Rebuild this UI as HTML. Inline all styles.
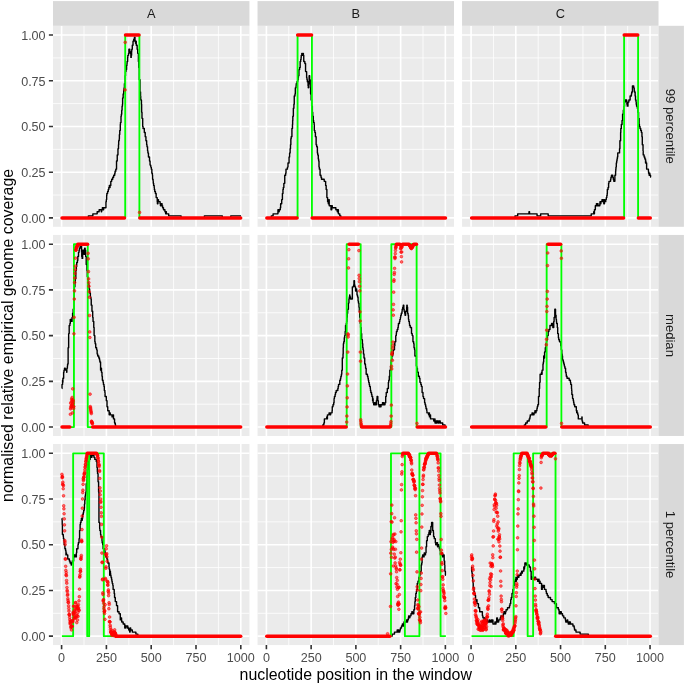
<!DOCTYPE html>
<html><head><meta charset="utf-8"><title>plot</title>
<style>html,body{margin:0;padding:0;background:#fff}svg{display:block}</style>
</head><body>
<svg width="685" height="685" viewBox="0 0 685 685" font-family="'Liberation Sans', Arial, sans-serif">
<rect width="685" height="685" fill="#fff"/>
<rect x="53" y="25.8" width="196.45" height="201" fill="#ebebeb"/>
<rect x="257.53" y="25.8" width="196.45" height="201" fill="#ebebeb"/>
<rect x="462.06" y="25.8" width="196.45" height="201" fill="#ebebeb"/>
<rect x="53" y="234.95" width="196.45" height="201" fill="#ebebeb"/>
<rect x="257.53" y="234.95" width="196.45" height="201" fill="#ebebeb"/>
<rect x="462.06" y="234.95" width="196.45" height="201" fill="#ebebeb"/>
<rect x="53" y="444.05" width="196.45" height="201" fill="#ebebeb"/>
<rect x="257.53" y="444.05" width="196.45" height="201" fill="#ebebeb"/>
<rect x="462.06" y="444.05" width="196.45" height="201" fill="#ebebeb"/>
<path d="M84 25.8V226.8M128.8 25.8V226.8M173.6 25.8V226.8M218.4 25.8V226.8M53 195.04H249.45M53 149.33H249.45M53 103.62H249.45M53 57.91H249.45M288.77 25.8V226.8M333.51 25.8V226.8M378.26 25.8V226.8M423 25.8V226.8M257.53 195.04H453.98M257.53 149.33H453.98M257.53 103.62H453.98M257.53 57.91H453.98M493.44 25.8V226.8M538.18 25.8V226.8M582.93 25.8V226.8M627.67 25.8V226.8M462.06 195.04H658.51M462.06 149.33H658.51M462.06 103.62H658.51M462.06 57.91H658.51M84 234.95V435.95M128.8 234.95V435.95M173.6 234.95V435.95M218.4 234.95V435.95M53 404.19H249.45M53 358.48H249.45M53 312.77H249.45M53 267.06H249.45M288.77 234.95V435.95M333.51 234.95V435.95M378.26 234.95V435.95M423 234.95V435.95M257.53 404.19H453.98M257.53 358.48H453.98M257.53 312.77H453.98M257.53 267.06H453.98M493.44 234.95V435.95M538.18 234.95V435.95M582.93 234.95V435.95M627.67 234.95V435.95M462.06 404.19H658.51M462.06 358.48H658.51M462.06 312.77H658.51M462.06 267.06H658.51M84 444.05V645.05M128.8 444.05V645.05M173.6 444.05V645.05M218.4 444.05V645.05M53 613.29H249.45M53 567.58H249.45M53 521.87H249.45M53 476.16H249.45M288.77 444.05V645.05M333.51 444.05V645.05M378.26 444.05V645.05M423 444.05V645.05M257.53 613.29H453.98M257.53 567.58H453.98M257.53 521.87H453.98M257.53 476.16H453.98M493.44 444.05V645.05M538.18 444.05V645.05M582.93 444.05V645.05M627.67 444.05V645.05M462.06 613.29H658.51M462.06 567.58H658.51M462.06 521.87H658.51M462.06 476.16H658.51" stroke="#fff" stroke-width=".8" fill="none"/>
<path d="M61.6 25.8V226.8M106.4 25.8V226.8M151.2 25.8V226.8M196 25.8V226.8M240.8 25.8V226.8M53 217.9H249.45M53 172.19H249.45M53 126.47H249.45M53 80.76H249.45M53 35.05H249.45M266.4 25.8V226.8M311.14 25.8V226.8M355.88 25.8V226.8M400.63 25.8V226.8M445.37 25.8V226.8M257.53 217.9H453.98M257.53 172.19H453.98M257.53 126.47H453.98M257.53 80.76H453.98M257.53 35.05H453.98M471.07 25.8V226.8M515.81 25.8V226.8M560.55 25.8V226.8M605.3 25.8V226.8M650.04 25.8V226.8M462.06 217.9H658.51M462.06 172.19H658.51M462.06 126.47H658.51M462.06 80.76H658.51M462.06 35.05H658.51M61.6 234.95V435.95M106.4 234.95V435.95M151.2 234.95V435.95M196 234.95V435.95M240.8 234.95V435.95M53 427.05H249.45M53 381.34H249.45M53 335.62H249.45M53 289.91H249.45M53 244.2H249.45M266.4 234.95V435.95M311.14 234.95V435.95M355.88 234.95V435.95M400.63 234.95V435.95M445.37 234.95V435.95M257.53 427.05H453.98M257.53 381.34H453.98M257.53 335.62H453.98M257.53 289.91H453.98M257.53 244.2H453.98M471.07 234.95V435.95M515.81 234.95V435.95M560.55 234.95V435.95M605.3 234.95V435.95M650.04 234.95V435.95M462.06 427.05H658.51M462.06 381.34H658.51M462.06 335.62H658.51M462.06 289.91H658.51M462.06 244.2H658.51M61.6 444.05V645.05M106.4 444.05V645.05M151.2 444.05V645.05M196 444.05V645.05M240.8 444.05V645.05M53 636.15H249.45M53 590.44H249.45M53 544.73H249.45M53 499.01H249.45M53 453.3H249.45M266.4 444.05V645.05M311.14 444.05V645.05M355.88 444.05V645.05M400.63 444.05V645.05M445.37 444.05V645.05M257.53 636.15H453.98M257.53 590.44H453.98M257.53 544.73H453.98M257.53 499.01H453.98M257.53 453.3H453.98M471.07 444.05V645.05M515.81 444.05V645.05M560.55 444.05V645.05M605.3 444.05V645.05M650.04 444.05V645.05M462.06 636.15H658.51M462.06 590.44H658.51M462.06 544.73H658.51M462.06 499.01H658.51M462.06 453.3H658.51" stroke="#fff" stroke-width="1.6" fill="none"/>
<path d="M61.93 217.9 L88.38 217.9 L88.38 215.87 L92.86 215.87 L92.86 213.84 L97.16 213.84 L97.16 211.81 L99.13 211.81 L99.13 209.77 L101.29 209.77 L101.29 211.81 L101.64 211.81 L101.64 209.77 L102.36 209.77 L102.36 207.74 L103.08 207.74 L103.08 209.77 L103.62 209.77 L103.62 207.74 L105.95 207.74 L105.95 201.65 L106.31 201.65 L106.31 199.62 L106.66 199.62 L106.66 195.55 L106.84 195.55 L106.84 193.52 L107.56 193.52 L107.56 191.49 L108.28 191.49 L108.28 189.46 L108.82 189.46 L108.82 187.43 L109.35 187.43 L109.35 185.39 L109.71 185.39 L109.71 187.43 L110.07 187.43 L110.07 185.39 L110.79 185.39 L110.79 181.33 L111.69 181.33 L111.69 179.3 L112.76 179.3 L112.76 177.27 L113.66 177.27 L113.66 175.23 L114.73 175.23 L114.73 173.2 L115.09 173.2 L115.09 171.17 L115.81 171.17 L115.81 169.14 L116.53 169.14 L116.53 161.01 L117.24 161.01 L117.24 154.92 L117.96 154.92 L117.96 148.82 L118.5 148.82 L118.5 144.76 L118.68 144.76 L118.68 140.7 L119.22 140.7 L119.22 138.66 L119.39 138.66 L119.39 134.6 L119.75 134.6 L119.75 130.54 L120.29 130.54 L120.29 124.44 L120.47 124.44 L120.47 122.41 L121.01 122.41 L121.01 116.32 L121.37 116.32 L121.37 114.28 L121.73 114.28 L121.73 110.22 L122.08 110.22 L122.08 106.16 L122.44 106.16 L122.44 104.13 L122.62 104.13 L122.62 98.03 L123.16 98.03 L123.16 93.97 L123.7 93.97 L123.7 89.91 L124.06 89.91 L124.06 87.87 L124.42 87.87 L124.42 83.81 L125.13 83.81 L125.13 75.68 L125.49 75.68 L125.49 71.62 L126.03 71.62 L126.03 69.59 L126.57 69.59 L126.57 65.52 L126.93 65.52 L126.93 63.49 L127.1 63.49 L127.1 61.46 L127.64 61.46 L127.64 57.4 L127.82 57.4 L127.82 55.37 L128.54 55.37 L128.54 53.33 L128.9 53.33 L128.9 49.27 L129.79 49.27 L129.79 51.3 L130.15 51.3 L130.15 53.33 L130.87 53.33 L130.87 57.4 L131.23 57.4 L131.23 55.37 L131.59 55.37 L131.59 51.3 L131.77 51.3 L131.77 49.27 L132.3 49.27 L132.3 45.21 L133.02 45.21 L133.02 41.14 L133.74 41.14 L133.74 39.11 L134.46 39.11 L134.46 37.08 L134.99 37.08 L134.99 41.14 L135.53 41.14 L135.53 43.18 L135.71 43.18 L135.71 41.14 L136.25 41.14 L136.25 45.21 L137.15 45.21 L137.15 49.27 L137.68 49.27 L137.68 53.33 L138.4 53.33 L138.4 61.46 L138.76 61.46 L138.76 67.56 L139.3 67.56 L139.3 79.75 L140.01 79.75 L140.01 91.94 L140.55 91.94 L140.55 96 L140.73 96 L140.73 100.06 L141.45 100.06 L141.45 104.13 L141.63 104.13 L141.63 112.25 L141.99 112.25 L141.99 118.35 L142.7 118.35 L142.7 126.47 L143.06 126.47 L143.06 128.51 L144.32 128.51 L144.32 132.57 L145.21 132.57 L145.21 136.63 L145.93 136.63 L145.93 140.7 L146.65 140.7 L146.65 144.76 L147.01 144.76 L147.01 146.79 L147.55 146.79 L147.55 150.85 L147.9 150.85 L147.9 152.89 L148.44 152.89 L148.44 156.95 L149.52 156.95 L149.52 161.01 L150.06 161.01 L150.06 165.08 L150.77 165.08 L150.77 167.11 L151.31 167.11 L151.31 169.14 L151.85 169.14 L151.85 173.2 L152.39 173.2 L152.39 175.23 L152.57 175.23 L152.57 179.3 L153.1 179.3 L153.1 181.33 L153.28 181.33 L153.28 183.36 L153.64 183.36 L153.64 185.39 L154.18 185.39 L154.18 187.43 L154.36 187.43 L154.36 189.46 L154.72 189.46 L154.72 191.49 L155.43 191.49 L155.43 193.52 L156.15 193.52 L156.15 197.58 L157.23 197.58 L157.23 201.65 L157.41 201.65 L157.41 203.68 L157.94 203.68 L157.94 199.62 L158.48 199.62 L158.48 201.65 L160.1 201.65 L160.1 203.68 L160.45 203.68 L160.45 205.71 L161.17 205.71 L161.17 203.68 L162.07 203.68 L162.07 205.71 L162.61 205.71 L162.61 207.74 L163.5 207.74 L163.5 209.77 L164.94 209.77 L164.94 211.81 L165.65 211.81 L165.65 213.84 L166.01 213.84 L166.01 211.81 L166.37 211.81 L166.37 213.84 L168.7 213.84 L168.7 215.87 L181.07 215.87 L181.07 217.9 L204.38 217.9 L204.38 215.87 L222.31 215.87 L222.31 217.9 L230.74 217.9 L230.74 215.87 L241.05 215.87" stroke="#000" stroke-width="1.4" fill="none" stroke-linejoin="round"/>
<path d="M61.93 217.9 L125.22 217.9 L125.22 35.05 L139.39 35.05 L139.39 217.9 L241.05 217.9" stroke="#0f0" stroke-width="1.85" fill="none" stroke-linejoin="round"/>
<g stroke="#f00" stroke-width="3.5" stroke-linecap="round" fill="none"><path d="M62.02 217.9H124.5"/><path d="M125.49 35.05H139.03"/><path d="M139.84 217.9H240.69"/></g>
<g fill="#f00" fill-opacity=".55" stroke="#f00" stroke-opacity=".7" stroke-width=".8"><circle cx="125.04" cy="89.91" r="1.35"/><circle cx="125.22" cy="42.36" r="1.35"/><circle cx="139.57" cy="212.41" r="1.35"/></g>
<path d="M266.73 217.9 L271.3 217.9 L271.3 215.87 L273.09 215.87 L273.09 213.84 L277.94 213.84 L277.94 209.77 L278.65 209.77 L278.65 211.81 L279.19 211.81 L279.19 209.77 L280.27 209.77 L280.27 207.74 L280.63 207.74 L280.63 203.68 L281.7 203.68 L281.7 199.62 L282.42 199.62 L282.42 193.52 L282.96 193.52 L282.96 189.46 L283.31 189.46 L283.31 187.43 L283.85 187.43 L283.85 183.36 L284.75 183.36 L284.75 175.23 L285.65 175.23 L285.65 173.2 L286 173.2 L286 169.14 L287.44 169.14 L287.44 167.11 L287.98 167.11 L287.98 163.04 L289.05 163.04 L289.05 156.95 L289.59 156.95 L289.59 152.89 L290.13 152.89 L290.13 148.82 L290.49 148.82 L290.49 144.76 L290.85 144.76 L290.85 138.66 L291.2 138.66 L291.2 136.63 L291.92 136.63 L291.92 128.51 L292.46 128.51 L292.46 124.44 L292.64 124.44 L292.64 120.38 L292.82 120.38 L292.82 116.32 L293.36 116.32 L293.36 108.19 L293.89 108.19 L293.89 104.13 L294.25 104.13 L294.25 96 L294.97 96 L294.97 93.97 L295.33 93.97 L295.33 87.87 L296.04 87.87 L296.04 85.84 L296.22 85.84 L296.22 83.81 L296.94 83.81 L296.94 81.78 L297.66 81.78 L297.66 79.75 L298.2 79.75 L298.2 77.71 L298.38 77.71 L298.38 75.68 L298.91 75.68 L298.91 69.59 L299.63 69.59 L299.63 67.56 L300.17 67.56 L300.17 61.46 L300.71 61.46 L300.71 59.43 L301.07 59.43 L301.07 57.4 L301.24 57.4 L301.24 55.37 L301.78 55.37 L301.78 53.33 L302.14 53.33 L302.14 55.37 L302.86 55.37 L302.86 53.33 L303.4 53.33 L303.4 55.37 L303.75 55.37 L303.75 61.46 L304.83 61.46 L304.83 63.49 L305.55 63.49 L305.55 71.62 L306.62 71.62 L306.62 77.71 L306.98 77.71 L306.98 79.75 L307.34 79.75 L307.34 81.78 L308.06 81.78 L308.06 85.84 L308.24 85.84 L308.24 87.87 L308.42 87.87 L308.42 83.81 L309.13 83.81 L309.13 75.68 L309.67 75.68 L309.67 79.75 L310.21 79.75 L310.21 87.87 L310.57 87.87 L310.57 93.97 L311.11 93.97 L311.11 100.06 L311.64 100.06 L311.64 106.16 L312.36 106.16 L312.36 112.25 L312.72 112.25 L312.72 116.32 L313.26 116.32 L313.26 120.38 L313.62 120.38 L313.62 122.41 L314.15 122.41 L314.15 124.44 L314.33 124.44 L314.33 130.54 L314.87 130.54 L314.87 132.57 L315.41 132.57 L315.41 136.63 L316.13 136.63 L316.13 144.76 L316.66 144.76 L316.66 146.79 L317.38 146.79 L317.38 152.89 L317.74 152.89 L317.74 154.92 L318.28 154.92 L318.28 158.98 L318.64 158.98 L318.64 161.01 L319 161.01 L319 167.11 L319.35 167.11 L319.35 169.14 L320.07 169.14 L320.07 175.23 L320.97 175.23 L320.97 177.27 L321.51 177.27 L321.51 179.3 L324.19 179.3 L324.19 181.33 L325.63 181.33 L325.63 185.39 L326.17 185.39 L326.17 189.46 L326.88 189.46 L326.88 197.58 L327.6 197.58 L327.6 201.65 L328.32 201.65 L328.32 203.68 L328.86 203.68 L328.86 199.62 L329.22 199.62 L329.22 205.71 L331.01 205.71 L331.01 209.77 L331.73 209.77 L331.73 205.71 L332.26 205.71 L332.26 207.74 L335.85 207.74 L335.85 209.77 L337.28 209.77 L337.28 211.81 L337.64 211.81 L337.64 209.77 L338.36 209.77 L338.36 213.84 L339.79 213.84 L339.79 215.87 L340.87 215.87 L340.87 217.9 L445.85 217.9" stroke="#000" stroke-width="1.4" fill="none" stroke-linejoin="round"/>
<path d="M266.73 217.9 L297.57 217.9 L297.57 35.05 L311.91 35.05 L311.91 217.9 L445.85 217.9" stroke="#0f0" stroke-width="1.85" fill="none" stroke-linejoin="round"/>
<g stroke="#f00" stroke-width="3.5" stroke-linecap="round" fill="none"><path d="M266.82 217.9H297.03"/><path d="M297.66 35.05H311.55"/><path d="M312.18 217.9H445.49"/></g>
<path d="M471.53 217.9 L515.01 217.9 L515.01 215.87 L517.7 215.87 L517.7 213.84 L528.99 213.84 L528.99 211.81 L529.53 211.81 L529.53 213.84 L537.06 213.84 L537.06 215.87 L540.65 215.87 L540.65 213.84 L548.18 213.84 L548.18 215.87 L591.21 215.87 L591.21 213.84 L593.72 213.84 L593.72 211.81 L594.08 211.81 L594.08 213.84 L594.44 213.84 L594.44 209.77 L595.34 209.77 L595.34 205.71 L596.41 205.71 L596.41 203.68 L597.13 203.68 L597.13 205.71 L597.67 205.71 L597.67 203.68 L598.03 203.68 L598.03 205.71 L599.82 205.71 L599.82 203.68 L600 203.68 L600 201.65 L600.36 201.65 L600.36 203.68 L600.89 203.68 L600.89 201.65 L601.97 201.65 L601.97 199.62 L602.69 199.62 L602.69 201.65 L603.23 201.65 L603.23 199.62 L603.4 199.62 L603.4 201.65 L603.76 201.65 L603.76 203.68 L604.48 203.68 L604.48 199.62 L605.02 199.62 L605.02 201.65 L605.74 201.65 L605.74 199.62 L606.27 199.62 L606.27 197.58 L606.81 197.58 L606.81 195.55 L607.17 195.55 L607.17 193.52 L607.35 193.52 L607.35 189.46 L608.07 189.46 L608.07 187.43 L608.6 187.43 L608.6 183.36 L608.96 183.36 L608.96 181.33 L610.58 181.33 L610.58 179.3 L610.94 179.3 L610.94 177.27 L611.47 177.27 L611.47 175.23 L612.73 175.23 L612.73 177.27 L613.27 177.27 L613.27 179.3 L613.8 179.3 L613.8 181.33 L614.88 181.33 L614.88 175.23 L615.6 175.23 L615.6 171.17 L615.78 171.17 L615.78 169.14 L615.96 169.14 L615.96 167.11 L616.31 167.11 L616.31 163.04 L616.67 163.04 L616.67 161.01 L617.03 161.01 L617.03 158.98 L617.39 158.98 L617.39 156.95 L617.75 156.95 L617.75 152.89 L619.54 152.89 L619.54 148.82 L619.9 148.82 L619.9 140.7 L620.62 140.7 L620.62 132.57 L620.8 132.57 L620.8 128.51 L621.33 128.51 L621.33 124.44 L622.05 124.44 L622.05 120.38 L622.59 120.38 L622.59 114.28 L623.31 114.28 L623.31 110.22 L624.02 110.22 L624.02 106.16 L624.56 106.16 L624.56 100.06 L624.92 100.06 L624.92 102.09 L625.28 102.09 L625.28 100.06 L626.71 100.06 L626.71 102.09 L626.89 102.09 L626.89 104.13 L627.25 104.13 L627.25 106.16 L627.97 106.16 L627.97 102.09 L628.87 102.09 L628.87 100.06 L630.12 100.06 L630.12 96 L631.38 96 L631.38 93.97 L631.73 93.97 L631.73 91.94 L632.45 91.94 L632.45 85.84 L633.71 85.84 L633.71 87.87 L634.24 87.87 L634.24 89.91 L634.42 89.91 L634.42 91.94 L635.14 91.94 L635.14 96 L635.5 96 L635.5 100.06 L636.04 100.06 L636.04 102.09 L636.22 102.09 L636.22 104.13 L636.57 104.13 L636.57 106.16 L637.29 106.16 L637.29 108.19 L637.83 108.19 L637.83 112.25 L638.55 112.25 L638.55 118.35 L639.09 118.35 L639.09 124.44 L639.44 124.44 L639.44 126.47 L639.98 126.47 L639.98 128.51 L640.7 128.51 L640.7 130.54 L641.42 130.54 L641.42 132.57 L641.95 132.57 L641.95 136.63 L642.31 136.63 L642.31 144.76 L643.03 144.76 L643.03 150.85 L643.21 150.85 L643.21 154.92 L644.11 154.92 L644.11 156.95 L644.82 156.95 L644.82 158.98 L645.54 158.98 L645.54 163.04 L645.72 163.04 L645.72 161.01 L645.9 161.01 L645.9 163.04 L646.62 163.04 L646.62 169.14 L648.41 169.14 L648.41 171.17 L648.59 171.17 L648.59 173.2 L649.13 173.2 L649.13 175.23 L649.31 175.23 L649.31 173.2 L649.84 173.2 L649.84 175.23 L650.56 175.23 L650.56 177.27 L650.65 177.27" stroke="#000" stroke-width="1.4" fill="none" stroke-linejoin="round"/>
<path d="M471.53 217.9 L624.11 217.9 L624.11 35.05 L638.1 35.05 L638.1 217.9 L650.65 217.9" stroke="#0f0" stroke-width="1.85" fill="none" stroke-linejoin="round"/>
<g stroke="#f00" stroke-width="3.5" stroke-linecap="round" fill="none"><path d="M471.62 217.9H623.58"/><path d="M624.2 35.05H637.74"/><path d="M638.37 217.9H650.29"/></g>
<path d="M61.93 388.45 L62.02 388.45 L62.02 384.38 L62.56 384.38 L62.56 380.32 L62.74 380.32 L62.74 382.35 L62.92 382.35 L62.92 378.29 L63.63 378.29 L63.63 372.19 L63.99 372.19 L63.99 370.16 L64.53 370.16 L64.53 368.13 L65.25 368.13 L65.25 370.16 L66.68 370.16 L66.68 372.19 L66.86 372.19 L66.86 368.13 L67.4 368.13 L67.4 366.1 L67.58 366.1 L67.58 364.07 L68.12 364.07 L68.12 347.81 L68.65 347.81 L68.65 333.59 L69.19 333.59 L69.19 325.47 L69.91 325.47 L69.91 323.44 L70.27 323.44 L70.27 319.37 L71.34 319.37 L71.34 321.4 L72.06 321.4 L72.06 317.34 L72.6 317.34 L72.6 313.28 L73.14 313.28 L73.14 309.21 L73.85 309.21 L73.85 299.06 L74.03 299.06 L74.03 292.96 L74.39 292.96 L74.39 286.87 L74.93 286.87 L74.93 282.8 L75.29 282.8 L75.29 278.74 L75.83 278.74 L75.83 270.61 L76.36 270.61 L76.36 266.55 L76.72 266.55 L76.72 262.49 L77.44 262.49 L77.44 260.45 L77.8 260.45 L77.8 256.39 L78.51 256.39 L78.51 252.33 L79.05 252.33 L79.05 250.29 L79.41 250.29 L79.41 248.26 L80.13 248.26 L80.13 245.11 L80.49 245.11 L80.49 246.23 L81.56 246.23 L81.56 252.33 L81.74 252.33 L81.74 256.39 L82.1 256.39 L82.1 258.42 L82.64 258.42 L82.64 250.29 L83.71 250.29 L83.71 252.33 L83.89 252.33 L83.89 254.36 L84.61 254.36 L84.61 248.26 L85.15 248.26 L85.15 250.29 L85.69 250.29 L85.69 256.39 L86.22 256.39 L86.22 264.52 L86.94 264.52 L86.94 270.61 L87.3 270.61 L87.3 276.71 L87.84 276.71 L87.84 282.8 L88.56 282.8 L88.56 284.83 L89.09 284.83 L89.09 288.9 L89.63 288.9 L89.63 292.96 L90.35 292.96 L90.35 297.02 L90.89 297.02 L90.89 299.06 L91.24 299.06 L91.24 305.15 L91.96 305.15 L91.96 311.25 L92.68 311.25 L92.68 317.34 L93.04 317.34 L93.04 321.4 L93.76 321.4 L93.76 327.5 L94.11 327.5 L94.11 335.62 L94.83 335.62 L94.83 341.72 L95.19 341.72 L95.19 343.75 L95.73 343.75 L95.73 347.81 L96.62 347.81 L96.62 349.85 L97.16 349.85 L97.16 353.91 L97.7 353.91 L97.7 355.94 L98.78 355.94 L98.78 357.97 L99.49 357.97 L99.49 360 L99.85 360 L99.85 362.04 L100.57 362.04 L100.57 370.16 L101.11 370.16 L101.11 368.13 L101.46 368.13 L101.46 372.19 L102 372.19 L102 376.26 L102.36 376.26 L102.36 380.32 L103.08 380.32 L103.08 382.35 L103.44 382.35 L103.44 384.38 L103.98 384.38 L103.98 386.42 L104.33 386.42 L104.33 390.48 L104.87 390.48 L104.87 392.51 L105.05 392.51 L105.05 396.57 L106.31 396.57 L106.31 400.64 L107.02 400.64 L107.02 406.73 L107.74 406.73 L107.74 410.8 L109.17 410.8 L109.17 414.86 L110.07 414.86 L110.07 412.83 L110.25 412.83 L110.25 414.86 L112.04 414.86 L112.04 416.89 L112.76 416.89 L112.76 414.86 L113.48 414.86 L113.48 418.92 L114.55 418.92 L114.55 422.99 L115.27 422.99 L115.27 425.02 L115.63 425.02 L115.63 427.05 L241.05 427.05" stroke="#000" stroke-width="1.4" fill="none" stroke-linejoin="round"/>
<path d="M61.93 427.05 L73.94 427.05 L73.94 244.2 L87.75 244.2 L87.75 427.05 L241.05 427.05" stroke="#0f0" stroke-width="1.85" fill="none" stroke-linejoin="round"/>
<g stroke="#f00" stroke-width="3.5" stroke-linecap="round" fill="none"><path d="M62.02 427.05H69.82"/><path d="M77.8 244.2H87.57"/><path d="M92.68 427.05H240.69"/></g>
<g fill="#f00" fill-opacity=".55" stroke="#f00" stroke-opacity=".7" stroke-width=".8"><circle cx="70.36" cy="414.25" r="1.35"/><circle cx="70.54" cy="408.84" r="1.35"/><circle cx="70.72" cy="403.23" r="1.35"/><circle cx="70.89" cy="407.81" r="1.35"/><circle cx="71.07" cy="406.2" r="1.35"/><circle cx="71.25" cy="402.1" r="1.35"/><circle cx="71.43" cy="406.52" r="1.35"/><circle cx="71.61" cy="399.1" r="1.35"/><circle cx="71.79" cy="405.06" r="1.35"/><circle cx="71.97" cy="400.7" r="1.35"/><circle cx="72.15" cy="397.48" r="1.35"/><circle cx="72.33" cy="412.97" r="1.35"/><circle cx="72.51" cy="404.04" r="1.35"/><circle cx="72.69" cy="388.85" r="1.35"/><circle cx="72.87" cy="399.92" r="1.35"/><circle cx="73.05" cy="403.21" r="1.35"/><circle cx="73.23" cy="401.18" r="1.35"/><circle cx="73.4" cy="406.72" r="1.35"/><circle cx="73.58" cy="408.58" r="1.35"/><circle cx="73.76" cy="406.63" r="1.35"/><circle cx="73.94" cy="333.8" r="1.35"/><circle cx="74.12" cy="317.34" r="1.35"/><circle cx="74.3" cy="299.06" r="1.35"/><circle cx="74.48" cy="290.83" r="1.35"/><circle cx="74.66" cy="282.6" r="1.35"/><circle cx="74.84" cy="278.03" r="1.35"/><circle cx="75.02" cy="273.46" r="1.35"/><circle cx="75.2" cy="269.8" r="1.35"/><circle cx="75.38" cy="266.14" r="1.35"/><circle cx="75.56" cy="258.19" r="1.35"/><circle cx="75.74" cy="250.23" r="1.35"/><circle cx="75.91" cy="249.87" r="1.35"/><circle cx="76.09" cy="250.12" r="1.35"/><circle cx="76.27" cy="248.12" r="1.35"/><circle cx="76.45" cy="247.97" r="1.35"/><circle cx="76.63" cy="247.18" r="1.35"/><circle cx="76.81" cy="246.9" r="1.35"/><circle cx="76.99" cy="245.83" r="1.35"/><circle cx="77.17" cy="246.59" r="1.35"/><circle cx="77.35" cy="245.87" r="1.35"/><circle cx="77.53" cy="245.3" r="1.35"/><circle cx="88.11" cy="253.34" r="1.35"/><circle cx="88.29" cy="258.83" r="1.35"/><circle cx="88.47" cy="271.63" r="1.35"/><circle cx="88.64" cy="278.94" r="1.35"/><circle cx="88.82" cy="282.6" r="1.35"/><circle cx="89" cy="286.26" r="1.35"/><circle cx="89.18" cy="291.74" r="1.35"/><circle cx="89.36" cy="297.23" r="1.35"/><circle cx="89.54" cy="315.51" r="1.35"/><circle cx="89.72" cy="331.97" r="1.35"/><circle cx="89.9" cy="337.45" r="1.35"/><circle cx="90.08" cy="394.14" r="1.35"/><circle cx="90.26" cy="406.57" r="1.35"/><circle cx="90.44" cy="407.67" r="1.35"/><circle cx="90.62" cy="408.76" r="1.35"/><circle cx="90.8" cy="410.04" r="1.35"/><circle cx="90.98" cy="411.32" r="1.35"/><circle cx="91.16" cy="412.47" r="1.35"/><circle cx="91.33" cy="413.61" r="1.35"/><circle cx="91.51" cy="421.2" r="1.35"/><circle cx="91.69" cy="421.69" r="1.35"/><circle cx="91.87" cy="422.17" r="1.35"/><circle cx="92.05" cy="422.66" r="1.35"/><circle cx="92.23" cy="423.21" r="1.35"/><circle cx="92.41" cy="423.76" r="1.35"/></g>
<path d="M266.73 427.05 L322.76 427.05 L322.76 425.02 L323.84 425.02 L323.84 422.99 L324.37 422.99 L324.37 418.92 L326.71 418.92 L326.71 416.89 L327.06 416.89 L327.06 418.92 L327.42 418.92 L327.42 414.86 L329.04 414.86 L329.04 412.83 L330.11 412.83 L330.11 414.86 L330.65 414.86 L330.65 412.83 L332.08 412.83 L332.08 410.8 L332.26 410.8 L332.26 406.73 L332.98 406.73 L332.98 404.7 L333.7 404.7 L333.7 402.67 L334.06 402.67 L334.06 398.61 L334.42 398.61 L334.42 396.57 L335.13 396.57 L335.13 394.54 L335.49 394.54 L335.49 392.51 L336.21 392.51 L336.21 390.48 L337.82 390.48 L337.82 388.45 L338.18 388.45 L338.18 386.42 L338.54 386.42 L338.54 384.38 L339.79 384.38 L339.79 380.32 L340.51 380.32 L340.51 378.29 L340.87 378.29 L340.87 376.26 L341.41 376.26 L341.41 374.23 L341.77 374.23 L341.77 370.16 L342.3 370.16 L342.3 357.97 L343.02 357.97 L343.02 353.91 L343.2 353.91 L343.2 347.81 L343.38 347.81 L343.38 343.75 L343.74 343.75 L343.74 341.72 L344.28 341.72 L344.28 337.66 L344.64 337.66 L344.64 335.62 L345.17 335.62 L345.17 331.56 L345.53 331.56 L345.53 325.47 L346.25 325.47 L346.25 323.44 L346.61 323.44 L346.61 321.4 L346.97 321.4 L346.97 317.34 L347.32 317.34 L347.32 313.28 L347.68 313.28 L347.68 309.21 L348.4 309.21 L348.4 303.12 L348.94 303.12 L348.94 299.06 L349.3 299.06 L349.3 297.02 L349.66 297.02 L349.66 294.99 L349.83 294.99 L349.83 297.02 L350.55 297.02 L350.55 299.06 L352.35 299.06 L352.35 286.87 L353.6 286.87 L353.6 284.83 L353.96 284.83 L353.96 280.77 L354.5 280.77 L354.5 284.83 L354.86 284.83 L354.86 286.87 L355.57 286.87 L355.57 290.93 L355.93 290.93 L355.93 288.9 L356.65 288.9 L356.65 290.93 L357.01 290.93 L357.01 294.99 L357.54 294.99 L357.54 297.02 L358.08 297.02 L358.08 301.09 L358.44 301.09 L358.44 303.12 L358.98 303.12 L358.98 307.18 L359.34 307.18 L359.34 311.25 L359.7 311.25 L359.7 317.34 L360.23 317.34 L360.23 323.44 L360.59 323.44 L360.59 327.5 L361.13 327.5 L361.13 333.59 L361.67 333.59 L361.67 339.69 L362.39 339.69 L362.39 343.75 L362.74 343.75 L362.74 347.81 L363.1 347.81 L363.1 349.85 L363.46 349.85 L363.46 353.91 L364 353.91 L364 357.97 L364.72 357.97 L364.72 364.07 L365.43 364.07 L365.43 366.1 L365.61 366.1 L365.61 368.13 L366.15 368.13 L366.15 374.23 L367.41 374.23 L367.41 376.26 L367.94 376.26 L367.94 378.29 L368.3 378.29 L368.3 380.32 L368.66 380.32 L368.66 382.35 L369.2 382.35 L369.2 384.38 L369.56 384.38 L369.56 386.42 L370.28 386.42 L370.28 388.45 L370.45 388.45 L370.45 390.48 L370.81 390.48 L370.81 392.51 L371.53 392.51 L371.53 394.54 L371.89 394.54 L371.89 396.57 L372.61 396.57 L372.61 400.64 L372.79 400.64 L372.79 398.61 L373.14 398.61 L373.14 402.67 L373.68 402.67 L373.68 404.7 L374.76 404.7 L374.76 402.67 L375.12 402.67 L375.12 404.7 L376.37 404.7 L376.37 400.64 L376.91 400.64 L376.91 398.61 L377.09 398.61 L377.09 396.57 L377.81 396.57 L377.81 400.64 L378.34 400.64 L378.34 404.7 L379.06 404.7 L379.06 406.73 L379.78 406.73 L379.78 404.7 L380.32 404.7 L380.32 406.73 L381.03 406.73 L381.03 404.7 L382.47 404.7 L382.47 402.67 L382.65 402.67 L382.65 404.7 L382.83 404.7 L382.83 402.67 L383.72 402.67 L383.72 404.7 L384.98 404.7 L384.98 402.67 L385.69 402.67 L385.69 396.57 L386.23 396.57 L386.23 392.51 L387.31 392.51 L387.31 388.45 L388.38 388.45 L388.38 382.35 L388.74 382.35 L388.74 380.32 L389.28 380.32 L389.28 376.26 L389.82 376.26 L389.82 370.16 L390.54 370.16 L390.54 366.1 L391.07 366.1 L391.07 362.04 L391.25 362.04 L391.25 360 L391.79 360 L391.79 355.94 L392.69 355.94 L392.69 353.91 L393.23 353.91 L393.23 349.85 L394.48 349.85 L394.48 343.75 L394.66 343.75 L394.66 345.78 L394.84 345.78 L394.84 341.72 L395.74 341.72 L395.74 335.62 L396.27 335.62 L396.27 333.59 L396.45 333.59 L396.45 331.56 L397.17 331.56 L397.17 329.53 L397.89 329.53 L397.89 327.5 L398.25 327.5 L398.25 325.47 L398.43 325.47 L398.43 323.44 L399.5 323.44 L399.5 321.4 L399.86 321.4 L399.86 319.37 L400.4 319.37 L400.4 317.34 L400.76 317.34 L400.76 315.31 L401.29 315.31 L401.29 313.28 L402.01 313.28 L402.01 311.25 L402.19 311.25 L402.19 309.21 L402.73 309.21 L402.73 307.18 L403.27 307.18 L403.27 305.15 L403.8 305.15 L403.8 309.21 L404.16 309.21 L404.16 311.25 L404.7 311.25 L404.7 313.28 L405.06 313.28 L405.06 315.31 L405.6 315.31 L405.6 311.25 L406.67 311.25 L406.67 307.18 L406.85 307.18 L406.85 305.15 L407.21 305.15 L407.21 307.18 L407.57 307.18 L407.57 313.28 L408.11 313.28 L408.11 315.31 L408.47 315.31 L408.47 319.37 L408.82 319.37 L408.82 321.4 L409.36 321.4 L409.36 323.44 L409.54 323.44 L409.54 325.47 L410.26 325.47 L410.26 327.5 L411.51 327.5 L411.51 333.59 L412.23 333.59 L412.23 335.62 L412.95 335.62 L412.95 341.72 L413.67 341.72 L413.67 343.75 L414.02 343.75 L414.02 347.81 L414.56 347.81 L414.56 349.85 L414.92 349.85 L414.92 355.94 L416.36 355.94 L416.36 366.1 L416.71 366.1 L416.71 368.13 L417.43 368.13 L417.43 372.19 L418.33 372.19 L418.33 376.26 L419.4 376.26 L419.4 378.29 L419.94 378.29 L419.94 382.35 L420.84 382.35 L420.84 384.38 L421.38 384.38 L421.38 386.42 L422.09 386.42 L422.09 392.51 L422.99 392.51 L422.99 396.57 L423.53 396.57 L423.53 398.61 L424.6 398.61 L424.6 402.67 L425.14 402.67 L425.14 404.7 L425.68 404.7 L425.68 406.73 L426.04 406.73 L426.04 408.76 L426.75 408.76 L426.75 410.8 L426.93 410.8 L426.93 412.83 L428.55 412.83 L428.55 414.86 L429.09 414.86 L429.09 412.83 L429.44 412.83 L429.44 416.89 L429.98 416.89 L429.98 414.86 L430.52 414.86 L430.52 418.92 L433.75 418.92 L433.75 420.95 L434.64 420.95 L434.64 418.92 L435 418.92 L435 422.99 L436.08 422.99 L436.08 420.95 L436.97 420.95 L436.97 422.99 L437.15 422.99 L437.15 420.95 L438.41 420.95 L438.41 422.99 L439.13 422.99 L439.13 420.95 L440.2 420.95 L440.2 422.99 L442.71 422.99 L442.71 425.02 L445.04 425.02 L445.04 427.05 L445.85 427.05" stroke="#000" stroke-width="1.4" fill="none" stroke-linejoin="round"/>
<path d="M266.73 427.05 L346.7 427.05 L346.7 244.2 L360.68 244.2 L360.68 427.05 L391.34 427.05 L391.34 244.2 L416.62 244.2 L416.62 427.05 L445.85 427.05" stroke="#0f0" stroke-width="1.85" fill="none" stroke-linejoin="round"/>
<g stroke="#f00" stroke-width="3.5" stroke-linecap="round" fill="none"><path d="M266.82 427.05H346.16"/><path d="M349.12 244.2H358.35"/><path d="M361.67 427.05H389.91"/><path d="M396.45 244.2H399.95"/><path d="M402.55 244.2H409.09"/><path d="M413.84 244.2H416.44"/><path d="M417.25 427.05H445.49"/></g>
<g fill="#f00" fill-opacity=".55" stroke="#f00" stroke-opacity=".7" stroke-width=".8"><circle cx="346.7" cy="422.11" r="1.35"/><circle cx="346.88" cy="416.08" r="1.35"/><circle cx="347.06" cy="406.94" r="1.35"/><circle cx="347.24" cy="397.79" r="1.35"/><circle cx="347.41" cy="385.91" r="1.35"/><circle cx="347.59" cy="374.02" r="1.35"/><circle cx="347.77" cy="352.08" r="1.35"/><circle cx="347.95" cy="333.89" r="1.35"/><circle cx="348.13" cy="336.99" r="1.35"/><circle cx="348.31" cy="334.83" r="1.35"/><circle cx="348.49" cy="267.97" r="1.35"/><circle cx="348.67" cy="258.83" r="1.35"/><circle cx="348.85" cy="249.69" r="1.35"/><circle cx="358.89" cy="250.6" r="1.35"/><circle cx="359.07" cy="275.28" r="1.35"/><circle cx="359.25" cy="278.48" r="1.35"/><circle cx="359.43" cy="281.68" r="1.35"/><circle cx="359.61" cy="286.26" r="1.35"/><circle cx="359.79" cy="290.83" r="1.35"/><circle cx="359.97" cy="311.85" r="1.35"/><circle cx="360.14" cy="321" r="1.35"/><circle cx="360.32" cy="352.08" r="1.35"/><circle cx="360.5" cy="361.22" r="1.35"/><circle cx="360.68" cy="419.74" r="1.35"/><circle cx="360.86" cy="421.56" r="1.35"/><circle cx="361.04" cy="423.39" r="1.35"/><circle cx="361.22" cy="424.61" r="1.35"/><circle cx="361.4" cy="425.83" r="1.35"/><circle cx="390.45" cy="426.14" r="1.35"/><circle cx="390.63" cy="425.22" r="1.35"/><circle cx="390.8" cy="423.39" r="1.35"/><circle cx="390.98" cy="421.56" r="1.35"/><circle cx="391.16" cy="416.08" r="1.35"/><circle cx="391.34" cy="405.11" r="1.35"/><circle cx="391.52" cy="366.23" r="1.35"/><circle cx="391.7" cy="368.95" r="1.35"/><circle cx="391.88" cy="353.97" r="1.35"/><circle cx="392.06" cy="354.6" r="1.35"/><circle cx="392.24" cy="352.17" r="1.35"/><circle cx="392.42" cy="360.3" r="1.35"/><circle cx="392.6" cy="348.32" r="1.35"/><circle cx="392.78" cy="345.67" r="1.35"/><circle cx="392.96" cy="342.11" r="1.35"/><circle cx="393.14" cy="309.93" r="1.35"/><circle cx="393.32" cy="315.18" r="1.35"/><circle cx="393.49" cy="304.38" r="1.35"/><circle cx="393.67" cy="292.16" r="1.35"/><circle cx="393.85" cy="281.29" r="1.35"/><circle cx="394.03" cy="279.83" r="1.35"/><circle cx="394.21" cy="274.4" r="1.35"/><circle cx="394.39" cy="272.52" r="1.35"/><circle cx="394.57" cy="268.37" r="1.35"/><circle cx="394.75" cy="257.07" r="1.35"/><circle cx="394.93" cy="258.58" r="1.35"/><circle cx="395.11" cy="257.42" r="1.35"/><circle cx="395.29" cy="253.66" r="1.35"/><circle cx="395.47" cy="250.42" r="1.35"/><circle cx="395.65" cy="247.93" r="1.35"/><circle cx="395.83" cy="247.46" r="1.35"/><circle cx="396" cy="246.43" r="1.35"/><circle cx="396.18" cy="245.21" r="1.35"/><circle cx="400.49" cy="245.58" r="1.35"/><circle cx="400.67" cy="248.3" r="1.35"/><circle cx="400.85" cy="248.83" r="1.35"/><circle cx="401.02" cy="252.15" r="1.35"/><circle cx="401.2" cy="247.09" r="1.35"/><circle cx="401.38" cy="256.63" r="1.35"/><circle cx="401.56" cy="261.94" r="1.35"/><circle cx="401.74" cy="251.98" r="1.35"/><circle cx="401.92" cy="247.21" r="1.35"/><circle cx="402.1" cy="245.79" r="1.35"/><circle cx="402.28" cy="245.13" r="1.35"/><circle cx="409.63" cy="245.54" r="1.35"/><circle cx="409.81" cy="245.94" r="1.35"/><circle cx="409.99" cy="245.54" r="1.35"/><circle cx="410.17" cy="246.45" r="1.35"/><circle cx="410.35" cy="246.45" r="1.35"/><circle cx="410.53" cy="246.22" r="1.35"/><circle cx="410.71" cy="247.66" r="1.35"/><circle cx="410.89" cy="246.71" r="1.35"/><circle cx="411.07" cy="247.86" r="1.35"/><circle cx="411.25" cy="248.34" r="1.35"/><circle cx="411.42" cy="248.6" r="1.35"/><circle cx="411.6" cy="246.37" r="1.35"/><circle cx="411.78" cy="247.24" r="1.35"/><circle cx="411.96" cy="247.05" r="1.35"/><circle cx="412.14" cy="247.57" r="1.35"/><circle cx="412.32" cy="245.94" r="1.35"/><circle cx="412.5" cy="247.23" r="1.35"/><circle cx="412.68" cy="246.56" r="1.35"/><circle cx="412.86" cy="245.33" r="1.35"/><circle cx="413.04" cy="245.21" r="1.35"/><circle cx="413.22" cy="245.53" r="1.35"/><circle cx="413.4" cy="244.92" r="1.35"/><circle cx="413.58" cy="244.85" r="1.35"/><circle cx="416.98" cy="423.39" r="1.35"/></g>
<path d="M471.53 427.05 L524.33 427.05 L524.33 425.02 L525.59 425.02 L525.59 422.99 L527.2 422.99 L527.2 420.95 L529.17 420.95 L529.17 418.92 L529.89 418.92 L529.89 416.89 L530.25 416.89 L530.25 414.86 L532.04 414.86 L532.04 412.83 L532.76 412.83 L532.76 414.86 L534.02 414.86 L534.02 412.83 L534.91 412.83 L534.91 410.8 L535.27 410.8 L535.27 412.83 L535.99 412.83 L535.99 410.8 L536.88 410.8 L536.88 408.76 L537.24 408.76 L537.24 406.73 L537.78 406.73 L537.78 404.7 L538.5 404.7 L538.5 396.57 L539.22 396.57 L539.22 388.45 L539.57 388.45 L539.57 382.35 L540.11 382.35 L540.11 374.23 L541.55 374.23 L541.55 372.19 L541.73 372.19 L541.73 374.23 L542.08 374.23 L542.08 370.16 L542.98 370.16 L542.98 364.07 L543.34 364.07 L543.34 362.04 L543.7 362.04 L543.7 355.94 L544.41 355.94 L544.41 357.97 L544.59 357.97 L544.59 351.88 L545.31 351.88 L545.31 347.81 L546.03 347.81 L546.03 343.75 L546.39 343.75 L546.39 341.72 L546.75 341.72 L546.75 339.69 L547.46 339.69 L547.46 335.62 L548.18 335.62 L548.18 331.56 L548.9 331.56 L548.9 329.53 L549.97 329.53 L549.97 325.47 L551.59 325.47 L551.59 323.44 L552.84 323.44 L552.84 327.5 L553.74 327.5 L553.74 321.4 L554.1 321.4 L554.1 317.34 L554.81 317.34 L554.81 309.21 L555.53 309.21 L555.53 315.31 L556.07 315.31 L556.07 319.37 L556.43 319.37 L556.43 321.4 L556.61 321.4 L556.61 323.44 L557.32 323.44 L557.32 327.5 L557.68 327.5 L557.68 333.59 L558.4 333.59 L558.4 337.66 L558.76 337.66 L558.76 339.69 L559.48 339.69 L559.48 341.72 L560.73 341.72 L560.73 345.78 L561.27 345.78 L561.27 349.85 L561.81 349.85 L561.81 353.91 L562.17 353.91 L562.17 355.94 L562.52 355.94 L562.52 360 L563.24 360 L563.24 362.04 L563.78 362.04 L563.78 364.07 L564.32 364.07 L564.32 366.1 L564.85 366.1 L564.85 368.13 L565.57 368.13 L565.57 372.19 L566.11 372.19 L566.11 374.23 L566.29 374.23 L566.29 376.26 L567.01 376.26 L567.01 378.29 L569.16 378.29 L569.16 380.32 L570.41 380.32 L570.41 382.35 L570.77 382.35 L570.77 384.38 L571.49 384.38 L571.49 388.45 L571.67 388.45 L571.67 390.48 L571.85 390.48 L571.85 394.54 L572.56 394.54 L572.56 398.61 L573.28 398.61 L573.28 400.64 L573.64 400.64 L573.64 402.67 L574 402.67 L574 404.7 L574.72 404.7 L574.72 406.73 L576.33 406.73 L576.33 410.8 L576.69 410.8 L576.69 412.83 L576.87 412.83 L576.87 410.8 L577.05 410.8 L577.05 412.83 L577.76 412.83 L577.76 414.86 L578.3 414.86 L578.3 418.92 L581.89 418.92 L581.89 416.89 L582.07 416.89 L582.07 420.95 L582.61 420.95 L582.61 422.99 L584.58 422.99 L584.58 425.02 L588.16 425.02 L588.16 427.05 L650.65 427.05" stroke="#000" stroke-width="1.4" fill="none" stroke-linejoin="round"/>
<path d="M471.53 427.05 L546.66 427.05 L546.66 244.2 L561.36 244.2 L561.36 427.05 L650.65 427.05" stroke="#0f0" stroke-width="1.85" fill="none" stroke-linejoin="round"/>
<g stroke="#f00" stroke-width="3.5" stroke-linecap="round" fill="none"><path d="M471.62 427.05H545.76"/><path d="M548 244.2H560.64"/><path d="M561.81 427.05H650.29"/></g>
<g fill="#f00" fill-opacity=".55" stroke="#f00" stroke-opacity=".7" stroke-width=".8"><circle cx="546.3" cy="344.77" r="1.35"/><circle cx="546.48" cy="339.28" r="1.35"/><circle cx="546.66" cy="330.14" r="1.35"/><circle cx="546.84" cy="311.49" r="1.35"/><circle cx="547.01" cy="306.37" r="1.35"/><circle cx="547.19" cy="299.06" r="1.35"/><circle cx="547.37" cy="291.38" r="1.35"/><circle cx="547.55" cy="265.59" r="1.35"/><circle cx="547.73" cy="252.98" r="1.35"/><circle cx="561.18" cy="250.97" r="1.35"/><circle cx="561.36" cy="258.28" r="1.35"/><circle cx="561.54" cy="423.39" r="1.35"/></g>
<path d="M61.93 518.31 L62.02 518.31 L62.02 520.35 L62.2 520.35 L62.2 524.41 L62.38 524.41 L62.38 534.57 L63.27 534.57 L63.27 536.6 L63.45 536.6 L63.45 538.63 L63.99 538.63 L63.99 540.66 L64.17 540.66 L64.17 544.73 L64.89 544.73 L64.89 548.79 L65.6 548.79 L65.6 550.82 L65.96 550.82 L65.96 554.88 L66.14 554.88 L66.14 552.85 L66.5 552.85 L66.5 554.88 L67.76 554.88 L67.76 558.95 L69.37 558.95 L69.37 560.98 L70.09 560.98 L70.09 563.01 L71.16 563.01 L71.16 565.04 L71.52 565.04 L71.52 563.01 L72.24 563.01 L72.24 560.98 L73.67 560.98 L73.67 556.91 L74.03 556.91 L74.03 554.88 L74.57 554.88 L74.57 556.91 L74.93 556.91 L74.93 554.88 L75.83 554.88 L75.83 556.91 L76.36 556.91 L76.36 552.85 L76.72 552.85 L76.72 548.79 L77.98 548.79 L77.98 544.73 L78.34 544.73 L78.34 542.69 L79.05 542.69 L79.05 538.63 L79.59 538.63 L79.59 530.5 L80.13 530.5 L80.13 524.41 L80.49 524.41 L80.49 522.38 L81.02 522.38 L81.02 520.35 L81.38 520.35 L81.38 518.31 L81.92 518.31 L81.92 520.35 L82.28 520.35 L82.28 518.31 L82.64 518.31 L82.64 514.25 L83.36 514.25 L83.36 512.22 L83.71 512.22 L83.71 510.19 L84.25 510.19 L84.25 508.16 L84.43 508.16 L84.43 504.09 L84.79 504.09 L84.79 500.03 L85.15 500.03 L85.15 495.97 L85.51 495.97 L85.51 493.93 L85.87 493.93 L85.87 491.9 L86.22 491.9 L86.22 483.77 L86.94 483.77 L86.94 479.71 L87.12 479.71 L87.12 475.65 L87.48 475.65 L87.48 469.55 L88.2 469.55 L88.2 465.49 L88.38 465.49 L88.38 463.46 L88.73 463.46 L88.73 461.43 L89.45 461.43 L89.45 459.39 L90.17 459.39 L90.17 455.33 L90.89 455.33 L90.89 457.36 L91.24 457.36 L91.24 455.33 L91.42 455.33 L91.42 457.36 L91.96 457.36 L91.96 455.33 L93.93 455.33 L93.93 457.36 L94.83 457.36 L94.83 459.39 L96.27 459.39 L96.27 461.43 L96.98 461.43 L96.98 467.52 L97.34 467.52 L97.34 471.59 L97.52 471.59 L97.52 473.62 L98.06 473.62 L98.06 481.74 L98.6 481.74 L98.6 491.9 L98.95 491.9 L98.95 522.38 L99.67 522.38 L99.67 528.47 L99.85 528.47 L99.85 530.5 L100.57 530.5 L100.57 534.57 L100.93 534.57 L100.93 536.6 L102 536.6 L102 540.66 L102.18 540.66 L102.18 542.69 L102.72 542.69 L102.72 544.73 L103.08 544.73 L103.08 548.79 L103.8 548.79 L103.8 552.85 L104.33 552.85 L104.33 548.79 L104.51 548.79 L104.51 550.82 L105.05 550.82 L105.05 552.85 L105.41 552.85 L105.41 554.88 L105.77 554.88 L105.77 556.91 L106.84 556.91 L106.84 558.95 L107.56 558.95 L107.56 560.98 L107.74 560.98 L107.74 563.01 L109 563.01 L109 567.07 L109.17 567.07 L109.17 569.11 L109.71 569.11 L109.71 575.2 L110.25 575.2 L110.25 571.14 L110.43 571.14 L110.43 573.17 L110.61 573.17 L110.61 575.2 L110.97 575.2 L110.97 577.23 L111.51 577.23 L111.51 579.26 L111.86 579.26 L111.86 581.29 L112.22 581.29 L112.22 583.33 L112.76 583.33 L112.76 585.36 L113.12 585.36 L113.12 589.42 L114.2 589.42 L114.2 593.49 L114.55 593.49 L114.55 597.55 L115.27 597.55 L115.27 601.61 L116.53 601.61 L116.53 605.67 L117.6 605.67 L117.6 611.77 L119.04 611.77 L119.04 613.8 L120.29 613.8 L120.29 619.9 L120.65 619.9 L120.65 617.87 L121.55 617.87 L121.55 619.9 L121.73 619.9 L121.73 621.93 L123.16 621.93 L123.16 623.96 L124.77 623.96 L124.77 628.02 L125.49 628.02 L125.49 625.99 L127.1 625.99 L127.1 628.02 L127.64 628.02 L127.64 625.99 L127.82 625.99 L127.82 628.02 L128.72 628.02 L128.72 630.06 L129.62 630.06 L129.62 632.09 L130.15 632.09 L130.15 628.02 L130.69 628.02 L130.69 630.06 L132.3 630.06 L132.3 632.09 L135.89 632.09 L135.89 634.12 L137.86 634.12 L137.86 636.15 L241.05 636.15" stroke="#000" stroke-width="1.4" fill="none" stroke-linejoin="round"/>
<path d="M61.93 636.15 L73.14 636.15 L73.14 453.3 L87.21 453.3 L87.21 636.15 L89.18 636.15 L89.18 453.3 L103.8 453.3 L103.8 636.15 L241.05 636.15" stroke="#0f0" stroke-width="1.85" fill="none" stroke-linejoin="round"/>
<g stroke="#f00" stroke-width="3.5" stroke-linecap="round" fill="none"><path d="M87.3 453.3H96.35"/><path d="M116.35 636.15H240.69"/></g>
<g fill="#f00" fill-opacity=".55" stroke="#f00" stroke-opacity=".7" stroke-width=".8"><circle cx="61.93" cy="474.35" r="1.35"/><circle cx="62.11" cy="477.78" r="1.35"/><circle cx="62.29" cy="476.42" r="1.35"/><circle cx="62.47" cy="477.09" r="1.35"/><circle cx="62.65" cy="484.15" r="1.35"/><circle cx="62.83" cy="482.19" r="1.35"/><circle cx="63.01" cy="484.79" r="1.35"/><circle cx="63.18" cy="488.75" r="1.35"/><circle cx="63.36" cy="485.7" r="1.35"/><circle cx="63.54" cy="495.79" r="1.35"/><circle cx="63.72" cy="505.78" r="1.35"/><circle cx="63.9" cy="508.8" r="1.35"/><circle cx="64.08" cy="513.75" r="1.35"/><circle cx="64.26" cy="518.9" r="1.35"/><circle cx="64.44" cy="524.89" r="1.35"/><circle cx="64.62" cy="530.83" r="1.35"/><circle cx="64.8" cy="540.56" r="1.35"/><circle cx="64.98" cy="542.01" r="1.35"/><circle cx="65.16" cy="544.5" r="1.35"/><circle cx="65.34" cy="558.8" r="1.35"/><circle cx="65.52" cy="559.21" r="1.35"/><circle cx="65.69" cy="566.31" r="1.35"/><circle cx="65.87" cy="570.38" r="1.35"/><circle cx="66.05" cy="574.9" r="1.35"/><circle cx="66.23" cy="572.63" r="1.35"/><circle cx="66.41" cy="575.72" r="1.35"/><circle cx="66.59" cy="580.48" r="1.35"/><circle cx="66.77" cy="583.14" r="1.35"/><circle cx="66.95" cy="587.51" r="1.35"/><circle cx="67.13" cy="590.25" r="1.35"/><circle cx="67.31" cy="591.61" r="1.35"/><circle cx="67.49" cy="595.36" r="1.35"/><circle cx="67.67" cy="594.35" r="1.35"/><circle cx="67.85" cy="598.73" r="1.35"/><circle cx="68.03" cy="600.43" r="1.35"/><circle cx="68.2" cy="602.18" r="1.35"/><circle cx="68.38" cy="602.71" r="1.35"/><circle cx="68.56" cy="605.92" r="1.35"/><circle cx="68.74" cy="608.5" r="1.35"/><circle cx="68.92" cy="611.11" r="1.35"/><circle cx="69.1" cy="614.26" r="1.35"/><circle cx="69.28" cy="615.04" r="1.35"/><circle cx="69.46" cy="614.63" r="1.35"/><circle cx="69.64" cy="617.38" r="1.35"/><circle cx="69.82" cy="619.72" r="1.35"/><circle cx="70" cy="622.7" r="1.35"/><circle cx="70.18" cy="624.11" r="1.35"/><circle cx="70.36" cy="621.39" r="1.35"/><circle cx="70.54" cy="621.06" r="1.35"/><circle cx="70.72" cy="623.4" r="1.35"/><circle cx="70.89" cy="627.75" r="1.35"/><circle cx="71.07" cy="626.6" r="1.35"/><circle cx="71.25" cy="626.84" r="1.35"/><circle cx="71.43" cy="629.92" r="1.35"/><circle cx="71.61" cy="626.52" r="1.35"/><circle cx="71.79" cy="626.41" r="1.35"/><circle cx="71.97" cy="626.54" r="1.35"/><circle cx="72.15" cy="626.29" r="1.35"/><circle cx="72.33" cy="620.96" r="1.35"/><circle cx="72.51" cy="620.76" r="1.35"/><circle cx="72.69" cy="621.91" r="1.35"/><circle cx="72.87" cy="620.76" r="1.35"/><circle cx="73.05" cy="613.18" r="1.35"/><circle cx="73.23" cy="612.08" r="1.35"/><circle cx="73.4" cy="614.97" r="1.35"/><circle cx="73.58" cy="606.2" r="1.35"/><circle cx="73.76" cy="614.26" r="1.35"/><circle cx="73.94" cy="618.02" r="1.35"/><circle cx="74.12" cy="606.31" r="1.35"/><circle cx="74.3" cy="613.11" r="1.35"/><circle cx="74.48" cy="610" r="1.35"/><circle cx="74.66" cy="611.56" r="1.35"/><circle cx="74.84" cy="617.34" r="1.35"/><circle cx="75.02" cy="618.34" r="1.35"/><circle cx="75.2" cy="612.45" r="1.35"/><circle cx="75.38" cy="602.82" r="1.35"/><circle cx="75.56" cy="617.04" r="1.35"/><circle cx="75.74" cy="602.59" r="1.35"/><circle cx="75.91" cy="609.35" r="1.35"/><circle cx="76.09" cy="617.48" r="1.35"/><circle cx="76.27" cy="608.58" r="1.35"/><circle cx="76.45" cy="606.41" r="1.35"/><circle cx="76.63" cy="615.24" r="1.35"/><circle cx="76.81" cy="622.6" r="1.35"/><circle cx="76.99" cy="606.81" r="1.35"/><circle cx="77.17" cy="615.64" r="1.35"/><circle cx="77.35" cy="605.67" r="1.35"/><circle cx="77.53" cy="620.02" r="1.35"/><circle cx="77.71" cy="608.69" r="1.35"/><circle cx="77.89" cy="612.55" r="1.35"/><circle cx="78.07" cy="616.42" r="1.35"/><circle cx="78.25" cy="608.4" r="1.35"/><circle cx="78.42" cy="604.63" r="1.35"/><circle cx="78.6" cy="607.76" r="1.35"/><circle cx="78.78" cy="610.07" r="1.35"/><circle cx="78.96" cy="600.82" r="1.35"/><circle cx="79.14" cy="610.39" r="1.35"/><circle cx="79.32" cy="596.72" r="1.35"/><circle cx="79.5" cy="589.17" r="1.35"/><circle cx="79.68" cy="577.16" r="1.35"/><circle cx="79.86" cy="576.32" r="1.35"/><circle cx="80.04" cy="574.55" r="1.35"/><circle cx="80.22" cy="571.21" r="1.35"/><circle cx="80.4" cy="569.31" r="1.35"/><circle cx="80.58" cy="571.38" r="1.35"/><circle cx="80.76" cy="558.72" r="1.35"/><circle cx="80.94" cy="559.31" r="1.35"/><circle cx="81.11" cy="557.32" r="1.35"/><circle cx="81.29" cy="555.5" r="1.35"/><circle cx="81.47" cy="541.28" r="1.35"/><circle cx="81.65" cy="540.09" r="1.35"/><circle cx="81.83" cy="541.62" r="1.35"/><circle cx="82.01" cy="529.54" r="1.35"/><circle cx="82.19" cy="516.05" r="1.35"/><circle cx="82.37" cy="508.22" r="1.35"/><circle cx="82.55" cy="498.97" r="1.35"/><circle cx="82.73" cy="492.59" r="1.35"/><circle cx="82.91" cy="490.18" r="1.35"/><circle cx="83.09" cy="484.31" r="1.35"/><circle cx="83.27" cy="478.55" r="1.35"/><circle cx="83.45" cy="480.56" r="1.35"/><circle cx="83.62" cy="479.58" r="1.35"/><circle cx="83.8" cy="477.12" r="1.35"/><circle cx="83.98" cy="477.15" r="1.35"/><circle cx="84.16" cy="474.71" r="1.35"/><circle cx="84.34" cy="473.37" r="1.35"/><circle cx="84.52" cy="473.77" r="1.35"/><circle cx="84.7" cy="472.26" r="1.35"/><circle cx="84.88" cy="469.86" r="1.35"/><circle cx="85.06" cy="467.59" r="1.35"/><circle cx="85.24" cy="466.52" r="1.35"/><circle cx="85.42" cy="464.24" r="1.35"/><circle cx="85.6" cy="464.72" r="1.35"/><circle cx="85.78" cy="461.78" r="1.35"/><circle cx="85.96" cy="461.06" r="1.35"/><circle cx="86.13" cy="459.51" r="1.35"/><circle cx="86.31" cy="458.36" r="1.35"/><circle cx="86.49" cy="457.87" r="1.35"/><circle cx="86.67" cy="456.5" r="1.35"/><circle cx="86.85" cy="455.63" r="1.35"/><circle cx="87.03" cy="454.32" r="1.35"/><circle cx="96.89" cy="453.94" r="1.35"/><circle cx="97.07" cy="454.5" r="1.35"/><circle cx="97.25" cy="454.88" r="1.35"/><circle cx="97.43" cy="455.77" r="1.35"/><circle cx="97.61" cy="455.43" r="1.35"/><circle cx="97.79" cy="457.47" r="1.35"/><circle cx="97.97" cy="457.65" r="1.35"/><circle cx="98.15" cy="459.04" r="1.35"/><circle cx="98.33" cy="460.98" r="1.35"/><circle cx="98.51" cy="461.5" r="1.35"/><circle cx="98.69" cy="463.8" r="1.35"/><circle cx="98.87" cy="465.12" r="1.35"/><circle cx="99.04" cy="466.76" r="1.35"/><circle cx="99.22" cy="465.24" r="1.35"/><circle cx="99.4" cy="470.5" r="1.35"/><circle cx="99.58" cy="471.39" r="1.35"/><circle cx="99.76" cy="478.45" r="1.35"/><circle cx="99.94" cy="487.86" r="1.35"/><circle cx="100.12" cy="494.8" r="1.35"/><circle cx="100.3" cy="491.11" r="1.35"/><circle cx="100.48" cy="502.48" r="1.35"/><circle cx="100.66" cy="498.98" r="1.35"/><circle cx="100.84" cy="501.58" r="1.35"/><circle cx="101.02" cy="507.26" r="1.35"/><circle cx="101.2" cy="512.8" r="1.35"/><circle cx="101.38" cy="516.36" r="1.35"/><circle cx="101.55" cy="524.38" r="1.35"/><circle cx="101.73" cy="537.19" r="1.35"/><circle cx="101.91" cy="553.05" r="1.35"/><circle cx="102.09" cy="562.56" r="1.35"/><circle cx="102.27" cy="562.03" r="1.35"/><circle cx="102.45" cy="579.84" r="1.35"/><circle cx="102.63" cy="579.05" r="1.35"/><circle cx="102.81" cy="592.9" r="1.35"/><circle cx="102.99" cy="594.41" r="1.35"/><circle cx="103.17" cy="600.99" r="1.35"/><circle cx="103.35" cy="600.28" r="1.35"/><circle cx="103.53" cy="599.6" r="1.35"/><circle cx="103.71" cy="603.37" r="1.35"/><circle cx="103.89" cy="608.64" r="1.35"/><circle cx="104.06" cy="606.69" r="1.35"/><circle cx="104.24" cy="611.63" r="1.35"/><circle cx="104.42" cy="611.31" r="1.35"/><circle cx="104.6" cy="613.48" r="1.35"/><circle cx="104.78" cy="610.7" r="1.35"/><circle cx="104.96" cy="619.32" r="1.35"/><circle cx="105.14" cy="604.67" r="1.35"/><circle cx="105.32" cy="579.47" r="1.35"/><circle cx="105.5" cy="578.4" r="1.35"/><circle cx="105.68" cy="554.44" r="1.35"/><circle cx="105.86" cy="568.33" r="1.35"/><circle cx="106.04" cy="566.91" r="1.35"/><circle cx="106.22" cy="548.78" r="1.35"/><circle cx="106.4" cy="554.75" r="1.35"/><circle cx="106.57" cy="545.77" r="1.35"/><circle cx="106.75" cy="553.68" r="1.35"/><circle cx="106.93" cy="556.78" r="1.35"/><circle cx="107.11" cy="561.27" r="1.35"/><circle cx="107.29" cy="581.38" r="1.35"/><circle cx="107.47" cy="581.51" r="1.35"/><circle cx="107.65" cy="584.73" r="1.35"/><circle cx="107.83" cy="585.31" r="1.35"/><circle cx="108.01" cy="582.65" r="1.35"/><circle cx="108.19" cy="591.41" r="1.35"/><circle cx="108.37" cy="589.93" r="1.35"/><circle cx="108.55" cy="595.62" r="1.35"/><circle cx="108.73" cy="592.8" r="1.35"/><circle cx="108.91" cy="608.72" r="1.35"/><circle cx="109.09" cy="602.75" r="1.35"/><circle cx="109.26" cy="604.47" r="1.35"/><circle cx="109.44" cy="621.68" r="1.35"/><circle cx="109.62" cy="617.02" r="1.35"/><circle cx="109.8" cy="621.86" r="1.35"/><circle cx="109.98" cy="621.89" r="1.35"/><circle cx="110.16" cy="625.31" r="1.35"/><circle cx="110.34" cy="627.18" r="1.35"/><circle cx="110.52" cy="629.6" r="1.35"/><circle cx="110.7" cy="631.92" r="1.35"/><circle cx="110.88" cy="632" r="1.35"/><circle cx="111.06" cy="632.61" r="1.35"/><circle cx="111.24" cy="632.23" r="1.35"/><circle cx="111.42" cy="633.35" r="1.35"/><circle cx="111.6" cy="629.98" r="1.35"/><circle cx="111.77" cy="635.28" r="1.35"/><circle cx="111.95" cy="632.71" r="1.35"/><circle cx="112.13" cy="634.32" r="1.35"/><circle cx="112.31" cy="633.94" r="1.35"/><circle cx="112.49" cy="632.44" r="1.35"/><circle cx="112.67" cy="633.37" r="1.35"/><circle cx="112.85" cy="634.72" r="1.35"/><circle cx="113.03" cy="632.55" r="1.35"/><circle cx="113.21" cy="633.19" r="1.35"/><circle cx="113.39" cy="635.55" r="1.35"/><circle cx="113.57" cy="632.37" r="1.35"/><circle cx="113.75" cy="633.98" r="1.35"/><circle cx="113.93" cy="633.64" r="1.35"/><circle cx="114.11" cy="631.99" r="1.35"/><circle cx="114.28" cy="632.34" r="1.35"/><circle cx="114.46" cy="633.27" r="1.35"/><circle cx="114.64" cy="629.88" r="1.35"/><circle cx="114.82" cy="632.45" r="1.35"/><circle cx="115" cy="634" r="1.35"/><circle cx="115.18" cy="632.89" r="1.35"/><circle cx="115.36" cy="633.49" r="1.35"/><circle cx="116.08" cy="634.74" r="1.35"/><circle cx="115.54" cy="636.15" r="1.35"/><circle cx="115.72" cy="636.15" r="1.35"/><circle cx="115.9" cy="636.15" r="1.35"/></g>
<path d="M266.73 636.15 L392.15 636.15 L392.15 634.12 L394.48 634.12 L394.48 632.09 L397.17 632.09 L397.17 630.06 L397.53 630.06 L397.53 632.09 L398.07 632.09 L398.07 630.06 L398.78 630.06 L398.78 632.09 L399.86 632.09 L399.86 630.06 L400.4 630.06 L400.4 628.02 L401.47 628.02 L401.47 625.99 L402.37 625.99 L402.37 623.96 L402.73 623.96 L402.73 625.99 L403.98 625.99 L403.98 621.93 L406.49 621.93 L406.49 619.9 L407.39 619.9 L407.39 621.93 L407.57 621.93 L407.57 619.9 L408.29 619.9 L408.29 617.87 L408.65 617.87 L408.65 615.83 L409.18 615.83 L409.18 617.87 L409.9 617.87 L409.9 615.83 L410.98 615.83 L410.98 613.8 L411.87 613.8 L411.87 611.77 L412.41 611.77 L412.41 613.8 L413.84 613.8 L413.84 609.74 L414.56 609.74 L414.56 605.67 L414.92 605.67 L414.92 601.61 L415.28 601.61 L415.28 597.55 L415.82 597.55 L415.82 593.49 L416.36 593.49 L416.36 591.45 L416.71 591.45 L416.71 589.42 L417.25 589.42 L417.25 583.33 L417.97 583.33 L417.97 581.29 L418.87 581.29 L418.87 577.23 L419.58 577.23 L419.58 575.2 L420.12 575.2 L420.12 573.17 L420.66 573.17 L420.66 571.14 L421.2 571.14 L421.2 565.04 L421.73 565.04 L421.73 563.01 L422.09 563.01 L422.09 556.91 L422.63 556.91 L422.63 554.88 L423.71 554.88 L423.71 556.91 L424.07 556.91 L424.07 554.88 L424.24 554.88 L424.24 552.85 L424.78 552.85 L424.78 554.88 L425.5 554.88 L425.5 552.85 L426.04 552.85 L426.04 546.76 L426.58 546.76 L426.58 540.66 L427.29 540.66 L427.29 536.6 L428.19 536.6 L428.19 534.57 L428.91 534.57 L428.91 532.53 L429.26 532.53 L429.26 530.5 L429.62 530.5 L429.62 534.57 L430.34 534.57 L430.34 532.53 L430.88 532.53 L430.88 526.44 L431.6 526.44 L431.6 522.38 L432.67 522.38 L432.67 530.5 L433.39 530.5 L433.39 532.53 L433.57 532.53 L433.57 536.6 L434.29 536.6 L434.29 538.63 L435.36 538.63 L435.36 542.69 L435.72 542.69 L435.72 544.73 L436.62 544.73 L436.62 542.69 L437.51 542.69 L437.51 546.76 L437.69 546.76 L437.69 544.73 L438.77 544.73 L438.77 546.76 L439.31 546.76 L439.31 548.79 L440.02 548.79 L440.02 550.82 L440.38 550.82 L440.38 554.88 L441.82 554.88 L441.82 552.85 L442.53 552.85 L442.53 556.91 L443.07 556.91 L443.07 554.88 L444.15 554.88 L444.15 560.98 L444.68 560.98 L444.68 565.04 L444.86 565.04 L444.86 571.14 L445.4 571.14 L445.4 575.2 L445.85 575.2" stroke="#000" stroke-width="1.4" fill="none" stroke-linejoin="round"/>
<path d="M266.73 636.15 L390.98 636.15 L390.98 453.3 L404.88 453.3 L404.88 636.15 L419.4 636.15 L419.4 453.3 L440.56 453.3 L440.56 636.15 L445.85 636.15" stroke="#0f0" stroke-width="1.85" fill="none" stroke-linejoin="round"/>
<g stroke="#f00" stroke-width="3.5" stroke-linecap="round" fill="none"><path d="M266.82 636.15H387.04"/><path d="M387.85 636.15H389.91"/><path d="M402.91 453.3H408.38"/><path d="M428.73 453.3H436.35"/></g>
<g fill="#f00" fill-opacity=".55" stroke="#f00" stroke-opacity=".7" stroke-width=".8"><circle cx="387.58" cy="633.77" r="1.35"/><circle cx="390.45" cy="606.45" r="1.35"/><circle cx="390.63" cy="573.84" r="1.35"/><circle cx="390.8" cy="553.2" r="1.35"/><circle cx="390.98" cy="541.66" r="1.35"/><circle cx="391.16" cy="521.67" r="1.35"/><circle cx="391.34" cy="549.39" r="1.35"/><circle cx="391.52" cy="557.29" r="1.35"/><circle cx="391.7" cy="513.7" r="1.35"/><circle cx="391.88" cy="505.1" r="1.35"/><circle cx="392.06" cy="522.11" r="1.35"/><circle cx="392.24" cy="539.01" r="1.35"/><circle cx="392.42" cy="537.89" r="1.35"/><circle cx="392.6" cy="547.03" r="1.35"/><circle cx="392.78" cy="548.32" r="1.35"/><circle cx="392.96" cy="542.55" r="1.35"/><circle cx="393.14" cy="535.36" r="1.35"/><circle cx="393.32" cy="566.01" r="1.35"/><circle cx="393.49" cy="534.33" r="1.35"/><circle cx="393.67" cy="541.29" r="1.35"/><circle cx="393.85" cy="549.4" r="1.35"/><circle cx="394.03" cy="539.41" r="1.35"/><circle cx="394.21" cy="554.11" r="1.35"/><circle cx="394.39" cy="541.03" r="1.35"/><circle cx="394.57" cy="517.76" r="1.35"/><circle cx="394.75" cy="558.05" r="1.35"/><circle cx="394.93" cy="534.07" r="1.35"/><circle cx="395.11" cy="562.96" r="1.35"/><circle cx="395.29" cy="557.19" r="1.35"/><circle cx="395.47" cy="549.26" r="1.35"/><circle cx="395.65" cy="565.92" r="1.35"/><circle cx="395.83" cy="541.58" r="1.35"/><circle cx="396" cy="583.7" r="1.35"/><circle cx="396.18" cy="567.94" r="1.35"/><circle cx="396.36" cy="569.13" r="1.35"/><circle cx="396.54" cy="571.77" r="1.35"/><circle cx="396.72" cy="577.54" r="1.35"/><circle cx="396.9" cy="587.12" r="1.35"/><circle cx="397.08" cy="584.23" r="1.35"/><circle cx="397.26" cy="580.42" r="1.35"/><circle cx="397.44" cy="589.28" r="1.35"/><circle cx="397.62" cy="596.48" r="1.35"/><circle cx="397.8" cy="604.05" r="1.35"/><circle cx="397.98" cy="605.19" r="1.35"/><circle cx="398.16" cy="603.14" r="1.35"/><circle cx="398.34" cy="604.86" r="1.35"/><circle cx="398.51" cy="602.05" r="1.35"/><circle cx="398.69" cy="587.53" r="1.35"/><circle cx="398.87" cy="609.3" r="1.35"/><circle cx="399.05" cy="587.21" r="1.35"/><circle cx="399.23" cy="604" r="1.35"/><circle cx="399.41" cy="594.56" r="1.35"/><circle cx="399.59" cy="562.49" r="1.35"/><circle cx="399.77" cy="569.65" r="1.35"/><circle cx="399.95" cy="569.91" r="1.35"/><circle cx="400.13" cy="563.95" r="1.35"/><circle cx="400.31" cy="559.18" r="1.35"/><circle cx="400.49" cy="565.25" r="1.35"/><circle cx="400.67" cy="565.13" r="1.35"/><circle cx="400.85" cy="552.75" r="1.35"/><circle cx="401.02" cy="531.87" r="1.35"/><circle cx="401.2" cy="520.73" r="1.35"/><circle cx="401.38" cy="489.97" r="1.35"/><circle cx="401.56" cy="484.63" r="1.35"/><circle cx="401.74" cy="474.07" r="1.35"/><circle cx="401.92" cy="471.78" r="1.35"/><circle cx="402.1" cy="464.64" r="1.35"/><circle cx="402.28" cy="456.49" r="1.35"/><circle cx="402.46" cy="455.01" r="1.35"/><circle cx="402.64" cy="454.26" r="1.35"/><circle cx="408.91" cy="454.6" r="1.35"/><circle cx="409.09" cy="455.61" r="1.35"/><circle cx="409.27" cy="454.88" r="1.35"/><circle cx="409.45" cy="456.46" r="1.35"/><circle cx="409.63" cy="454.77" r="1.35"/><circle cx="409.81" cy="456.51" r="1.35"/><circle cx="409.99" cy="456.54" r="1.35"/><circle cx="410.17" cy="457.19" r="1.35"/><circle cx="410.35" cy="457.38" r="1.35"/><circle cx="410.53" cy="457.76" r="1.35"/><circle cx="410.71" cy="457.7" r="1.35"/><circle cx="410.89" cy="459.94" r="1.35"/><circle cx="411.07" cy="460.05" r="1.35"/><circle cx="411.25" cy="460.67" r="1.35"/><circle cx="411.42" cy="462.56" r="1.35"/><circle cx="411.6" cy="463.84" r="1.35"/><circle cx="411.78" cy="470.02" r="1.35"/><circle cx="411.96" cy="474.09" r="1.35"/><circle cx="412.14" cy="473.07" r="1.35"/><circle cx="412.32" cy="474.02" r="1.35"/><circle cx="412.5" cy="474.75" r="1.35"/><circle cx="412.68" cy="475.15" r="1.35"/><circle cx="412.86" cy="475.25" r="1.35"/><circle cx="413.04" cy="479.38" r="1.35"/><circle cx="413.22" cy="479.5" r="1.35"/><circle cx="413.4" cy="479.63" r="1.35"/><circle cx="413.58" cy="480.06" r="1.35"/><circle cx="413.76" cy="481.12" r="1.35"/><circle cx="413.93" cy="482.27" r="1.35"/><circle cx="414.11" cy="485.1" r="1.35"/><circle cx="414.29" cy="481.17" r="1.35"/><circle cx="414.47" cy="485.49" r="1.35"/><circle cx="414.65" cy="485.75" r="1.35"/><circle cx="414.83" cy="488.73" r="1.35"/><circle cx="415.01" cy="487.71" r="1.35"/><circle cx="415.19" cy="489.65" r="1.35"/><circle cx="415.37" cy="488.41" r="1.35"/><circle cx="415.55" cy="495.7" r="1.35"/><circle cx="415.73" cy="514.89" r="1.35"/><circle cx="415.91" cy="518.34" r="1.35"/><circle cx="416.09" cy="522.8" r="1.35"/><circle cx="416.27" cy="530.79" r="1.35"/><circle cx="416.44" cy="533.81" r="1.35"/><circle cx="416.62" cy="552.15" r="1.35"/><circle cx="416.8" cy="539.37" r="1.35"/><circle cx="416.98" cy="571.9" r="1.35"/><circle cx="417.16" cy="586.77" r="1.35"/><circle cx="417.34" cy="589.97" r="1.35"/><circle cx="417.52" cy="608.23" r="1.35"/><circle cx="417.7" cy="600.01" r="1.35"/><circle cx="417.88" cy="604.61" r="1.35"/><circle cx="418.06" cy="608.54" r="1.35"/><circle cx="418.24" cy="605.58" r="1.35"/><circle cx="418.42" cy="609.13" r="1.35"/><circle cx="418.6" cy="613.62" r="1.35"/><circle cx="418.78" cy="613.52" r="1.35"/><circle cx="418.96" cy="606.69" r="1.35"/><circle cx="419.13" cy="613.86" r="1.35"/><circle cx="419.31" cy="614.66" r="1.35"/><circle cx="419.49" cy="619.8" r="1.35"/><circle cx="419.67" cy="612.32" r="1.35"/><circle cx="419.85" cy="617.36" r="1.35"/><circle cx="420.03" cy="620.55" r="1.35"/><circle cx="420.21" cy="620.78" r="1.35"/><circle cx="420.39" cy="622.66" r="1.35"/><circle cx="420.57" cy="611.92" r="1.35"/><circle cx="420.75" cy="590.68" r="1.35"/><circle cx="420.93" cy="584.51" r="1.35"/><circle cx="421.11" cy="578.43" r="1.35"/><circle cx="421.29" cy="573.11" r="1.35"/><circle cx="421.47" cy="559.19" r="1.35"/><circle cx="421.64" cy="548.07" r="1.35"/><circle cx="421.82" cy="527.07" r="1.35"/><circle cx="422" cy="513.98" r="1.35"/><circle cx="422.18" cy="505.3" r="1.35"/><circle cx="422.36" cy="496.78" r="1.35"/><circle cx="422.54" cy="490.62" r="1.35"/><circle cx="422.72" cy="484.29" r="1.35"/><circle cx="422.9" cy="484.38" r="1.35"/><circle cx="423.08" cy="479.6" r="1.35"/><circle cx="423.26" cy="476.6" r="1.35"/><circle cx="423.44" cy="475.17" r="1.35"/><circle cx="423.62" cy="469.98" r="1.35"/><circle cx="423.8" cy="469.49" r="1.35"/><circle cx="423.98" cy="467.67" r="1.35"/><circle cx="424.15" cy="467.06" r="1.35"/><circle cx="424.33" cy="467.43" r="1.35"/><circle cx="424.51" cy="464.26" r="1.35"/><circle cx="424.69" cy="464.44" r="1.35"/><circle cx="424.87" cy="464.05" r="1.35"/><circle cx="425.05" cy="463.27" r="1.35"/><circle cx="425.23" cy="462.93" r="1.35"/><circle cx="425.41" cy="461.69" r="1.35"/><circle cx="425.59" cy="460.53" r="1.35"/><circle cx="425.77" cy="459.1" r="1.35"/><circle cx="425.95" cy="459.95" r="1.35"/><circle cx="426.13" cy="458.29" r="1.35"/><circle cx="426.31" cy="458.19" r="1.35"/><circle cx="426.49" cy="457.51" r="1.35"/><circle cx="426.66" cy="457.65" r="1.35"/><circle cx="426.84" cy="458.08" r="1.35"/><circle cx="427.02" cy="456.16" r="1.35"/><circle cx="427.2" cy="456.07" r="1.35"/><circle cx="427.38" cy="456.74" r="1.35"/><circle cx="427.56" cy="455.75" r="1.35"/><circle cx="427.74" cy="455.55" r="1.35"/><circle cx="427.92" cy="454.3" r="1.35"/><circle cx="428.1" cy="454.36" r="1.35"/><circle cx="428.28" cy="454.5" r="1.35"/><circle cx="428.46" cy="454.26" r="1.35"/><circle cx="436.88" cy="454.46" r="1.35"/><circle cx="437.06" cy="455.3" r="1.35"/><circle cx="437.24" cy="456.39" r="1.35"/><circle cx="437.42" cy="456.84" r="1.35"/><circle cx="437.6" cy="458.61" r="1.35"/><circle cx="437.78" cy="459.12" r="1.35"/><circle cx="437.96" cy="460.19" r="1.35"/><circle cx="438.14" cy="462.9" r="1.35"/><circle cx="438.32" cy="467.75" r="1.35"/><circle cx="438.5" cy="468.28" r="1.35"/><circle cx="438.68" cy="471.11" r="1.35"/><circle cx="438.86" cy="475.42" r="1.35"/><circle cx="439.04" cy="478.67" r="1.35"/><circle cx="439.22" cy="480.5" r="1.35"/><circle cx="439.4" cy="485" r="1.35"/><circle cx="439.57" cy="488.56" r="1.35"/><circle cx="439.75" cy="490.82" r="1.35"/><circle cx="439.93" cy="493" r="1.35"/><circle cx="440.11" cy="498.51" r="1.35"/><circle cx="440.29" cy="498.95" r="1.35"/><circle cx="440.47" cy="500.88" r="1.35"/><circle cx="440.65" cy="501.84" r="1.35"/><circle cx="440.83" cy="513.68" r="1.35"/><circle cx="441.01" cy="516.36" r="1.35"/><circle cx="441.19" cy="539.48" r="1.35"/><circle cx="441.37" cy="550.14" r="1.35"/><circle cx="441.55" cy="553.57" r="1.35"/><circle cx="441.73" cy="553.42" r="1.35"/><circle cx="441.91" cy="562.58" r="1.35"/><circle cx="442.08" cy="564.17" r="1.35"/><circle cx="442.26" cy="570.62" r="1.35"/><circle cx="442.44" cy="576.75" r="1.35"/><circle cx="442.62" cy="576.82" r="1.35"/><circle cx="442.8" cy="579.31" r="1.35"/><circle cx="442.98" cy="588.39" r="1.35"/><circle cx="443.16" cy="584.9" r="1.35"/><circle cx="443.34" cy="590.32" r="1.35"/><circle cx="443.52" cy="591.24" r="1.35"/><circle cx="443.7" cy="595.92" r="1.35"/><circle cx="443.88" cy="592.32" r="1.35"/><circle cx="444.06" cy="593.72" r="1.35"/><circle cx="444.24" cy="597.36" r="1.35"/><circle cx="444.42" cy="597.89" r="1.35"/><circle cx="444.59" cy="597.81" r="1.35"/><circle cx="444.77" cy="600.68" r="1.35"/><circle cx="444.95" cy="607.82" r="1.35"/><circle cx="445.13" cy="608.66" r="1.35"/><circle cx="445.31" cy="606.31" r="1.35"/><circle cx="445.49" cy="607.71" r="1.35"/><circle cx="445.67" cy="607.87" r="1.35"/><circle cx="445.85" cy="613.43" r="1.35"/></g>
<path d="M471.53 567.07 L471.62 567.07 L471.62 571.14 L471.98 571.14 L471.98 573.17 L472.34 573.17 L472.34 577.23 L472.69 577.23 L472.69 581.29 L473.05 581.29 L473.05 583.33 L473.23 583.33 L473.23 587.39 L473.95 587.39 L473.95 591.45 L474.49 591.45 L474.49 593.49 L475.03 593.49 L475.03 595.52 L475.56 595.52 L475.56 599.58 L476.1 599.58 L476.1 601.61 L476.82 601.61 L476.82 599.58 L477 599.58 L477 603.64 L478.43 603.64 L478.43 607.71 L479.69 607.71 L479.69 611.77 L482.38 611.77 L482.38 615.83 L482.91 615.83 L482.91 617.87 L484.17 617.87 L484.17 619.9 L484.35 619.9 L484.35 617.87 L485.07 617.87 L485.07 619.9 L485.78 619.9 L485.78 621.93 L485.96 621.93 L485.96 619.9 L486.14 619.9 L486.14 621.93 L487.22 621.93 L487.22 619.9 L487.76 619.9 L487.76 621.93 L489.37 621.93 L489.37 619.9 L489.91 619.9 L489.91 621.93 L491.34 621.93 L491.34 619.9 L491.88 619.9 L491.88 621.93 L492.6 621.93 L492.6 619.9 L492.96 619.9 L492.96 623.96 L494.93 623.96 L494.93 621.93 L495.29 621.93 L495.29 623.96 L496 623.96 L496 621.93 L496.72 621.93 L496.72 617.87 L497.44 617.87 L497.44 621.93 L498.69 621.93 L498.69 619.9 L500.13 619.9 L500.13 617.87 L500.84 617.87 L500.84 615.83 L501.56 615.83 L501.56 617.87 L501.92 617.87 L501.92 615.83 L502.82 615.83 L502.82 617.87 L503.36 617.87 L503.36 613.8 L503.89 613.8 L503.89 611.77 L504.61 611.77 L504.61 613.8 L505.51 613.8 L505.51 611.77 L506.04 611.77 L506.04 609.74 L507.48 609.74 L507.48 607.71 L509.45 607.71 L509.45 605.67 L509.99 605.67 L509.99 603.64 L510.71 603.64 L510.71 599.58 L511.24 599.58 L511.24 597.55 L511.96 597.55 L511.96 593.49 L512.86 593.49 L512.86 589.42 L513.58 589.42 L513.58 585.36 L514.65 585.36 L514.65 581.29 L515.37 581.29 L515.37 579.26 L515.55 579.26 L515.55 581.29 L515.91 581.29 L515.91 577.23 L516.26 577.23 L516.26 581.29 L516.44 581.29 L516.44 579.26 L517.34 579.26 L517.34 577.23 L517.7 577.23 L517.7 575.2 L518.24 575.2 L518.24 577.23 L518.95 577.23 L518.95 575.2 L520.39 575.2 L520.39 573.17 L520.75 573.17 L520.75 575.2 L521.11 575.2 L521.11 573.17 L521.64 573.17 L521.64 571.14 L522 571.14 L522 573.17 L522.36 573.17 L522.36 571.14 L523.8 571.14 L523.8 567.07 L524.15 567.07 L524.15 569.11 L524.51 569.11 L524.51 567.07 L524.87 567.07 L524.87 563.01 L526.31 563.01 L526.31 565.04 L529.17 565.04 L529.17 567.07 L530.43 567.07 L530.43 571.14 L531.15 571.14 L531.15 579.26 L531.86 579.26 L531.86 577.23 L533.48 577.23 L533.48 579.26 L534.55 579.26 L534.55 577.23 L535.63 577.23 L535.63 579.26 L537.6 579.26 L537.6 581.29 L538.68 581.29 L538.68 579.26 L539.04 579.26 L539.04 581.29 L539.39 581.29 L539.39 583.33 L539.57 583.33 L539.57 581.29 L540.11 581.29 L540.11 583.33 L541.55 583.33 L541.55 589.42 L542.26 589.42 L542.26 585.36 L543.52 585.36 L543.52 587.39 L544.06 587.39 L544.06 585.36 L544.41 585.36 L544.41 589.42 L546.03 589.42 L546.03 591.45 L546.39 591.45 L546.39 593.49 L547.28 593.49 L547.28 595.52 L548.18 595.52 L548.18 597.55 L550.51 597.55 L550.51 599.58 L552.12 599.58 L552.12 601.61 L554.46 601.61 L554.46 603.64 L554.81 603.64 L554.81 601.61 L555.35 601.61 L555.35 603.64 L555.71 603.64 L555.71 605.67 L556.07 605.67 L556.07 603.64 L556.43 603.64 L556.43 607.71 L558.4 607.71 L558.4 609.74 L559.12 609.74 L559.12 613.8 L560.01 613.8 L560.01 611.77 L560.37 611.77 L560.37 613.8 L560.91 613.8 L560.91 611.77 L561.27 611.77 L561.27 613.8 L562.52 613.8 L562.52 615.83 L563.78 615.83 L563.78 617.87 L565.39 617.87 L565.39 619.9 L565.75 619.9 L565.75 621.93 L567.19 621.93 L567.19 619.9 L567.72 619.9 L567.72 621.93 L568.26 621.93 L568.26 623.96 L568.8 623.96 L568.8 621.93 L569.52 621.93 L569.52 623.96 L569.88 623.96 L569.88 621.93 L570.41 621.93 L570.41 623.96 L572.92 623.96 L572.92 625.99 L574.18 625.99 L574.18 628.02 L574.54 628.02 L574.54 630.06 L575.97 630.06 L575.97 632.09 L580.1 632.09 L580.1 634.12 L588.34 634.12 L588.34 636.15 L650.65 636.15" stroke="#000" stroke-width="1.4" fill="none" stroke-linejoin="round"/>
<path d="M471.53 636.15 L513.66 636.15 L513.66 453.3 L527.65 453.3 L527.65 636.15 L533.12 636.15 L533.12 453.3 L555.53 453.3 L555.53 636.15 L650.65 636.15" stroke="#0f0" stroke-width="1.85" fill="none" stroke-linejoin="round"/>
<g stroke="#f00" stroke-width="3.5" stroke-linecap="round" fill="none"><path d="M522 453.3H526.4"/><path d="M542.98 453.3H547.73"/><path d="M553.2 453.3H554.9"/><path d="M555.71 636.15H650.29"/></g>
<g fill="#f00" fill-opacity=".55" stroke="#f00" stroke-opacity=".7" stroke-width=".8"><circle cx="471.53" cy="556.61" r="1.35"/><circle cx="471.71" cy="554.92" r="1.35"/><circle cx="471.89" cy="559.66" r="1.35"/><circle cx="472.07" cy="557.93" r="1.35"/><circle cx="472.25" cy="559.33" r="1.35"/><circle cx="472.43" cy="558.41" r="1.35"/><circle cx="472.61" cy="566.18" r="1.35"/><circle cx="472.78" cy="568.5" r="1.35"/><circle cx="472.96" cy="575.36" r="1.35"/><circle cx="473.14" cy="570.02" r="1.35"/><circle cx="473.32" cy="580.83" r="1.35"/><circle cx="473.5" cy="589.46" r="1.35"/><circle cx="473.68" cy="588.11" r="1.35"/><circle cx="473.86" cy="593.31" r="1.35"/><circle cx="474.04" cy="593.11" r="1.35"/><circle cx="474.22" cy="594.1" r="1.35"/><circle cx="474.4" cy="599.06" r="1.35"/><circle cx="474.58" cy="602.16" r="1.35"/><circle cx="474.76" cy="602.53" r="1.35"/><circle cx="474.94" cy="603.66" r="1.35"/><circle cx="475.12" cy="605.29" r="1.35"/><circle cx="475.29" cy="610.84" r="1.35"/><circle cx="475.47" cy="614.63" r="1.35"/><circle cx="475.65" cy="610.68" r="1.35"/><circle cx="475.83" cy="611.36" r="1.35"/><circle cx="476.01" cy="615.81" r="1.35"/><circle cx="476.19" cy="617.16" r="1.35"/><circle cx="476.37" cy="620.47" r="1.35"/><circle cx="476.55" cy="618.1" r="1.35"/><circle cx="476.73" cy="623.44" r="1.35"/><circle cx="476.91" cy="620.92" r="1.35"/><circle cx="477.09" cy="620.76" r="1.35"/><circle cx="477.27" cy="622.3" r="1.35"/><circle cx="477.45" cy="624.52" r="1.35"/><circle cx="477.63" cy="622.23" r="1.35"/><circle cx="477.8" cy="624.38" r="1.35"/><circle cx="477.98" cy="619.73" r="1.35"/><circle cx="478.16" cy="629.15" r="1.35"/><circle cx="478.34" cy="625.13" r="1.35"/><circle cx="478.52" cy="624.73" r="1.35"/><circle cx="478.7" cy="624.85" r="1.35"/><circle cx="478.88" cy="625.39" r="1.35"/><circle cx="479.06" cy="627.84" r="1.35"/><circle cx="479.24" cy="629.55" r="1.35"/><circle cx="479.42" cy="626.57" r="1.35"/><circle cx="479.6" cy="627.53" r="1.35"/><circle cx="479.78" cy="627.1" r="1.35"/><circle cx="479.96" cy="625.94" r="1.35"/><circle cx="480.14" cy="627.33" r="1.35"/><circle cx="480.31" cy="630.21" r="1.35"/><circle cx="480.49" cy="626.15" r="1.35"/><circle cx="480.67" cy="626.79" r="1.35"/><circle cx="480.85" cy="622.65" r="1.35"/><circle cx="481.03" cy="628.29" r="1.35"/><circle cx="481.21" cy="630.27" r="1.35"/><circle cx="481.39" cy="626.89" r="1.35"/><circle cx="481.57" cy="628.14" r="1.35"/><circle cx="481.75" cy="621.46" r="1.35"/><circle cx="481.93" cy="628.32" r="1.35"/><circle cx="482.11" cy="627.79" r="1.35"/><circle cx="482.29" cy="625.92" r="1.35"/><circle cx="482.47" cy="623.39" r="1.35"/><circle cx="482.65" cy="624.59" r="1.35"/><circle cx="482.83" cy="630.12" r="1.35"/><circle cx="483" cy="629.84" r="1.35"/><circle cx="483.18" cy="621.7" r="1.35"/><circle cx="483.36" cy="629.45" r="1.35"/><circle cx="483.54" cy="625.19" r="1.35"/><circle cx="483.72" cy="620.59" r="1.35"/><circle cx="483.9" cy="622.52" r="1.35"/><circle cx="484.08" cy="621.83" r="1.35"/><circle cx="484.26" cy="627.32" r="1.35"/><circle cx="484.44" cy="626.99" r="1.35"/><circle cx="484.62" cy="624.03" r="1.35"/><circle cx="484.8" cy="623.12" r="1.35"/><circle cx="484.98" cy="620.32" r="1.35"/><circle cx="485.16" cy="624.57" r="1.35"/><circle cx="485.34" cy="627.26" r="1.35"/><circle cx="485.51" cy="622.89" r="1.35"/><circle cx="485.69" cy="619.53" r="1.35"/><circle cx="485.87" cy="623.98" r="1.35"/><circle cx="486.05" cy="629.84" r="1.35"/><circle cx="486.23" cy="629.05" r="1.35"/><circle cx="486.41" cy="623.04" r="1.35"/><circle cx="486.59" cy="626.65" r="1.35"/><circle cx="486.77" cy="620.97" r="1.35"/><circle cx="486.95" cy="616.48" r="1.35"/><circle cx="487.13" cy="617.41" r="1.35"/><circle cx="487.31" cy="614.17" r="1.35"/><circle cx="487.49" cy="616.79" r="1.35"/><circle cx="487.67" cy="607.45" r="1.35"/><circle cx="487.85" cy="609.29" r="1.35"/><circle cx="488.02" cy="608.76" r="1.35"/><circle cx="488.2" cy="600.3" r="1.35"/><circle cx="488.38" cy="600.22" r="1.35"/><circle cx="488.56" cy="605.92" r="1.35"/><circle cx="488.74" cy="599.7" r="1.35"/><circle cx="488.92" cy="597.76" r="1.35"/><circle cx="489.1" cy="590.78" r="1.35"/><circle cx="489.28" cy="591.65" r="1.35"/><circle cx="489.46" cy="594.29" r="1.35"/><circle cx="489.64" cy="578.76" r="1.35"/><circle cx="489.82" cy="585.6" r="1.35"/><circle cx="490" cy="582.7" r="1.35"/><circle cx="490.18" cy="563.06" r="1.35"/><circle cx="490.36" cy="576.96" r="1.35"/><circle cx="490.54" cy="579.93" r="1.35"/><circle cx="490.71" cy="573.92" r="1.35"/><circle cx="490.89" cy="566.16" r="1.35"/><circle cx="491.07" cy="586.44" r="1.35"/><circle cx="491.25" cy="576.81" r="1.35"/><circle cx="491.43" cy="563.74" r="1.35"/><circle cx="491.61" cy="574.45" r="1.35"/><circle cx="491.79" cy="565.27" r="1.35"/><circle cx="491.97" cy="565.01" r="1.35"/><circle cx="492.15" cy="563.71" r="1.35"/><circle cx="492.33" cy="565.24" r="1.35"/><circle cx="492.51" cy="566.76" r="1.35"/><circle cx="492.69" cy="554.82" r="1.35"/><circle cx="492.87" cy="557.71" r="1.35"/><circle cx="493.05" cy="537.04" r="1.35"/><circle cx="493.22" cy="545.93" r="1.35"/><circle cx="493.4" cy="536.69" r="1.35"/><circle cx="493.58" cy="531" r="1.35"/><circle cx="493.76" cy="521.33" r="1.35"/><circle cx="493.94" cy="519.64" r="1.35"/><circle cx="494.12" cy="509.52" r="1.35"/><circle cx="494.3" cy="504.8" r="1.35"/><circle cx="494.48" cy="506.26" r="1.35"/><circle cx="494.66" cy="499.08" r="1.35"/><circle cx="494.84" cy="499.72" r="1.35"/><circle cx="495.02" cy="495.87" r="1.35"/><circle cx="495.2" cy="495.17" r="1.35"/><circle cx="495.38" cy="494.04" r="1.35"/><circle cx="495.56" cy="500.37" r="1.35"/><circle cx="495.73" cy="503.16" r="1.35"/><circle cx="495.91" cy="502.71" r="1.35"/><circle cx="496.09" cy="508.2" r="1.35"/><circle cx="496.27" cy="512.1" r="1.35"/><circle cx="496.45" cy="503.65" r="1.35"/><circle cx="496.63" cy="505.33" r="1.35"/><circle cx="496.81" cy="526.14" r="1.35"/><circle cx="496.99" cy="512.5" r="1.35"/><circle cx="497.17" cy="524.03" r="1.35"/><circle cx="497.35" cy="512.69" r="1.35"/><circle cx="497.53" cy="527.95" r="1.35"/><circle cx="497.71" cy="516.22" r="1.35"/><circle cx="497.89" cy="539.19" r="1.35"/><circle cx="498.07" cy="521.91" r="1.35"/><circle cx="498.25" cy="531.1" r="1.35"/><circle cx="498.42" cy="539.22" r="1.35"/><circle cx="498.6" cy="529.5" r="1.35"/><circle cx="498.78" cy="528.34" r="1.35"/><circle cx="498.96" cy="541.84" r="1.35"/><circle cx="499.14" cy="536.86" r="1.35"/><circle cx="499.32" cy="536.99" r="1.35"/><circle cx="499.5" cy="534.75" r="1.35"/><circle cx="499.68" cy="538.97" r="1.35"/><circle cx="499.86" cy="546.04" r="1.35"/><circle cx="500.04" cy="551.15" r="1.35"/><circle cx="500.22" cy="557.34" r="1.35"/><circle cx="500.4" cy="557.14" r="1.35"/><circle cx="500.58" cy="570.98" r="1.35"/><circle cx="500.76" cy="581.29" r="1.35"/><circle cx="500.93" cy="586.03" r="1.35"/><circle cx="501.11" cy="596.11" r="1.35"/><circle cx="501.29" cy="599.45" r="1.35"/><circle cx="501.47" cy="601.69" r="1.35"/><circle cx="501.65" cy="609.5" r="1.35"/><circle cx="501.83" cy="609.1" r="1.35"/><circle cx="502.01" cy="611.65" r="1.35"/><circle cx="502.19" cy="616.41" r="1.35"/><circle cx="502.37" cy="618.29" r="1.35"/><circle cx="502.55" cy="618.78" r="1.35"/><circle cx="502.73" cy="620.57" r="1.35"/><circle cx="502.91" cy="624.88" r="1.35"/><circle cx="503.09" cy="626.64" r="1.35"/><circle cx="503.27" cy="623.9" r="1.35"/><circle cx="503.44" cy="629.95" r="1.35"/><circle cx="503.62" cy="629.85" r="1.35"/><circle cx="503.8" cy="627.73" r="1.35"/><circle cx="503.98" cy="629.13" r="1.35"/><circle cx="504.16" cy="629.33" r="1.35"/><circle cx="504.34" cy="629.39" r="1.35"/><circle cx="504.52" cy="628.91" r="1.35"/><circle cx="504.7" cy="630.31" r="1.35"/><circle cx="504.88" cy="629.99" r="1.35"/><circle cx="505.06" cy="629.25" r="1.35"/><circle cx="505.24" cy="629.45" r="1.35"/><circle cx="505.42" cy="632.06" r="1.35"/><circle cx="505.6" cy="630.52" r="1.35"/><circle cx="505.78" cy="633.19" r="1.35"/><circle cx="505.95" cy="633.38" r="1.35"/><circle cx="506.13" cy="633.06" r="1.35"/><circle cx="506.31" cy="633.08" r="1.35"/><circle cx="506.49" cy="633.06" r="1.35"/><circle cx="506.67" cy="630.39" r="1.35"/><circle cx="506.85" cy="630.3" r="1.35"/><circle cx="507.03" cy="632.92" r="1.35"/><circle cx="507.21" cy="632.58" r="1.35"/><circle cx="507.39" cy="635.21" r="1.35"/><circle cx="507.57" cy="633.75" r="1.35"/><circle cx="507.75" cy="632.23" r="1.35"/><circle cx="507.93" cy="632.72" r="1.35"/><circle cx="508.11" cy="634.18" r="1.35"/><circle cx="508.29" cy="634.22" r="1.35"/><circle cx="508.64" cy="632.47" r="1.35"/><circle cx="508.82" cy="634.37" r="1.35"/><circle cx="509" cy="634.99" r="1.35"/><circle cx="509.18" cy="634.78" r="1.35"/><circle cx="509.36" cy="634.92" r="1.35"/><circle cx="509.54" cy="635.46" r="1.35"/><circle cx="509.72" cy="634.43" r="1.35"/><circle cx="509.9" cy="633.84" r="1.35"/><circle cx="510.08" cy="635.11" r="1.35"/><circle cx="510.26" cy="633.81" r="1.35"/><circle cx="510.44" cy="634.88" r="1.35"/><circle cx="510.62" cy="634.5" r="1.35"/><circle cx="510.8" cy="634.46" r="1.35"/><circle cx="510.98" cy="633.22" r="1.35"/><circle cx="511.15" cy="634.93" r="1.35"/><circle cx="511.33" cy="635.14" r="1.35"/><circle cx="511.51" cy="632.26" r="1.35"/><circle cx="511.69" cy="632.91" r="1.35"/><circle cx="511.87" cy="633.59" r="1.35"/><circle cx="512.05" cy="631.52" r="1.35"/><circle cx="512.23" cy="632.69" r="1.35"/><circle cx="512.41" cy="632.29" r="1.35"/><circle cx="512.59" cy="632.86" r="1.35"/><circle cx="512.77" cy="632.33" r="1.35"/><circle cx="512.95" cy="631.66" r="1.35"/><circle cx="513.13" cy="629.79" r="1.35"/><circle cx="513.31" cy="630.08" r="1.35"/><circle cx="513.49" cy="628.29" r="1.35"/><circle cx="513.66" cy="630.78" r="1.35"/><circle cx="513.84" cy="629.43" r="1.35"/><circle cx="514.02" cy="630.24" r="1.35"/><circle cx="514.2" cy="627.8" r="1.35"/><circle cx="514.38" cy="626.38" r="1.35"/><circle cx="514.56" cy="626.65" r="1.35"/><circle cx="514.74" cy="625.96" r="1.35"/><circle cx="514.92" cy="625.42" r="1.35"/><circle cx="515.1" cy="622.89" r="1.35"/><circle cx="515.28" cy="621.11" r="1.35"/><circle cx="515.46" cy="619.54" r="1.35"/><circle cx="515.64" cy="617.81" r="1.35"/><circle cx="515.82" cy="616.51" r="1.35"/><circle cx="516" cy="605.85" r="1.35"/><circle cx="516.18" cy="596.48" r="1.35"/><circle cx="516.35" cy="592.69" r="1.35"/><circle cx="516.53" cy="587.22" r="1.35"/><circle cx="516.71" cy="583.5" r="1.35"/><circle cx="516.89" cy="585.2" r="1.35"/><circle cx="517.07" cy="574.73" r="1.35"/><circle cx="517.25" cy="571.08" r="1.35"/><circle cx="517.43" cy="549.75" r="1.35"/><circle cx="517.61" cy="537.81" r="1.35"/><circle cx="517.79" cy="526.06" r="1.35"/><circle cx="517.97" cy="513.92" r="1.35"/><circle cx="518.15" cy="508.94" r="1.35"/><circle cx="518.33" cy="499.71" r="1.35"/><circle cx="518.51" cy="490.97" r="1.35"/><circle cx="518.69" cy="491.63" r="1.35"/><circle cx="518.86" cy="482.97" r="1.35"/><circle cx="519.04" cy="478.31" r="1.35"/><circle cx="519.22" cy="475.53" r="1.35"/><circle cx="519.4" cy="469.56" r="1.35"/><circle cx="519.58" cy="465.66" r="1.35"/><circle cx="519.76" cy="462.4" r="1.35"/><circle cx="519.94" cy="463.41" r="1.35"/><circle cx="520.12" cy="460.16" r="1.35"/><circle cx="520.3" cy="458.83" r="1.35"/><circle cx="520.48" cy="458.13" r="1.35"/><circle cx="520.66" cy="456.62" r="1.35"/><circle cx="520.84" cy="457.67" r="1.35"/><circle cx="521.02" cy="455.64" r="1.35"/><circle cx="521.2" cy="455.88" r="1.35"/><circle cx="521.37" cy="455.18" r="1.35"/><circle cx="521.55" cy="454.05" r="1.35"/><circle cx="521.73" cy="453.93" r="1.35"/><circle cx="526.93" cy="454.52" r="1.35"/><circle cx="527.11" cy="454.14" r="1.35"/><circle cx="527.47" cy="455.13" r="1.35"/><circle cx="527.65" cy="454.67" r="1.35"/><circle cx="527.83" cy="455.88" r="1.35"/><circle cx="528.01" cy="455.26" r="1.35"/><circle cx="528.19" cy="456.82" r="1.35"/><circle cx="528.37" cy="456.84" r="1.35"/><circle cx="528.55" cy="457.7" r="1.35"/><circle cx="528.73" cy="458.06" r="1.35"/><circle cx="528.91" cy="458.54" r="1.35"/><circle cx="529.08" cy="458.06" r="1.35"/><circle cx="529.26" cy="458.67" r="1.35"/><circle cx="529.44" cy="461.05" r="1.35"/><circle cx="529.62" cy="461.26" r="1.35"/><circle cx="529.8" cy="461.58" r="1.35"/><circle cx="529.98" cy="461.82" r="1.35"/><circle cx="530.16" cy="461.18" r="1.35"/><circle cx="530.34" cy="463.83" r="1.35"/><circle cx="530.52" cy="463.16" r="1.35"/><circle cx="530.7" cy="464.81" r="1.35"/><circle cx="530.88" cy="464.88" r="1.35"/><circle cx="531.06" cy="466.23" r="1.35"/><circle cx="531.24" cy="465.59" r="1.35"/><circle cx="531.42" cy="466.72" r="1.35"/><circle cx="531.59" cy="467.71" r="1.35"/><circle cx="531.77" cy="469.86" r="1.35"/><circle cx="531.95" cy="472.7" r="1.35"/><circle cx="532.13" cy="474.12" r="1.35"/><circle cx="532.31" cy="477.8" r="1.35"/><circle cx="532.49" cy="478.07" r="1.35"/><circle cx="532.67" cy="481.52" r="1.35"/><circle cx="532.85" cy="482.08" r="1.35"/><circle cx="533.03" cy="488.2" r="1.35"/><circle cx="533.21" cy="488.6" r="1.35"/><circle cx="533.39" cy="496.36" r="1.35"/><circle cx="533.57" cy="504.13" r="1.35"/><circle cx="533.75" cy="505.95" r="1.35"/><circle cx="533.93" cy="516.18" r="1.35"/><circle cx="534.11" cy="527.29" r="1.35"/><circle cx="534.28" cy="540.47" r="1.35"/><circle cx="534.46" cy="560.11" r="1.35"/><circle cx="534.64" cy="568.85" r="1.35"/><circle cx="534.82" cy="579.08" r="1.35"/><circle cx="535" cy="588.61" r="1.35"/><circle cx="535.18" cy="596.09" r="1.35"/><circle cx="535.36" cy="600.07" r="1.35"/><circle cx="535.54" cy="604.45" r="1.35"/><circle cx="535.72" cy="606.21" r="1.35"/><circle cx="535.9" cy="610.05" r="1.35"/><circle cx="536.08" cy="610.98" r="1.35"/><circle cx="536.26" cy="609.78" r="1.35"/><circle cx="536.44" cy="612.34" r="1.35"/><circle cx="536.62" cy="611.63" r="1.35"/><circle cx="536.79" cy="614.09" r="1.35"/><circle cx="536.97" cy="614.49" r="1.35"/><circle cx="537.15" cy="617.65" r="1.35"/><circle cx="537.33" cy="618.84" r="1.35"/><circle cx="537.51" cy="616.7" r="1.35"/><circle cx="537.69" cy="617.3" r="1.35"/><circle cx="537.87" cy="618.38" r="1.35"/><circle cx="538.05" cy="621.38" r="1.35"/><circle cx="538.23" cy="621.2" r="1.35"/><circle cx="538.41" cy="623.91" r="1.35"/><circle cx="538.59" cy="623.4" r="1.35"/><circle cx="538.77" cy="622.05" r="1.35"/><circle cx="538.95" cy="622.66" r="1.35"/><circle cx="539.13" cy="624.95" r="1.35"/><circle cx="539.3" cy="625.85" r="1.35"/><circle cx="539.48" cy="628.28" r="1.35"/><circle cx="539.66" cy="627.59" r="1.35"/><circle cx="539.84" cy="629.37" r="1.35"/><circle cx="540.02" cy="630.18" r="1.35"/><circle cx="540.2" cy="629.77" r="1.35"/><circle cx="540.38" cy="633.78" r="1.35"/><circle cx="540.56" cy="632.89" r="1.35"/><circle cx="540.74" cy="631.51" r="1.35"/><circle cx="540.92" cy="488.04" r="1.35"/><circle cx="541.1" cy="462.44" r="1.35"/><circle cx="541.28" cy="457.73" r="1.35"/><circle cx="541.46" cy="456.04" r="1.35"/><circle cx="541.64" cy="456.02" r="1.35"/><circle cx="541.81" cy="455.88" r="1.35"/><circle cx="541.99" cy="455.19" r="1.35"/><circle cx="542.17" cy="454.53" r="1.35"/><circle cx="542.35" cy="454.71" r="1.35"/><circle cx="542.53" cy="454.86" r="1.35"/><circle cx="542.71" cy="453.9" r="1.35"/><circle cx="548.27" cy="454.12" r="1.35"/><circle cx="548.45" cy="454.26" r="1.35"/><circle cx="548.63" cy="454.74" r="1.35"/><circle cx="548.81" cy="454.36" r="1.35"/><circle cx="549.17" cy="454.01" r="1.35"/><circle cx="549.35" cy="455.18" r="1.35"/><circle cx="549.52" cy="455.78" r="1.35"/><circle cx="549.7" cy="455.13" r="1.35"/><circle cx="549.88" cy="455.09" r="1.35"/><circle cx="550.06" cy="454.69" r="1.35"/><circle cx="550.24" cy="456.25" r="1.35"/><circle cx="550.42" cy="455.11" r="1.35"/><circle cx="550.6" cy="454.72" r="1.35"/><circle cx="550.78" cy="454.89" r="1.35"/><circle cx="550.96" cy="455.34" r="1.35"/><circle cx="551.14" cy="455.49" r="1.35"/><circle cx="551.32" cy="455.92" r="1.35"/><circle cx="551.5" cy="455.8" r="1.35"/><circle cx="551.68" cy="455.69" r="1.35"/><circle cx="551.86" cy="454.76" r="1.35"/><circle cx="552.03" cy="454.51" r="1.35"/><circle cx="552.21" cy="454.64" r="1.35"/><circle cx="552.39" cy="454.23" r="1.35"/><circle cx="552.57" cy="454.16" r="1.35"/><circle cx="552.75" cy="453.97" r="1.35"/><circle cx="552.93" cy="454" r="1.35"/><circle cx="555.44" cy="458.79" r="1.35"/><circle cx="508.47" cy="636.15" r="1.35"/><circle cx="527.29" cy="453.3" r="1.35"/><circle cx="548.99" cy="453.3" r="1.35"/></g>
<rect x="53" y="1.1" width="196.45" height="24.7" fill="#d9d9d9"/>
<text x="151.22" y="18.2" font-size="12.8" fill="#1a1a1a" text-anchor="middle">A</text>
<rect x="257.53" y="1.1" width="196.45" height="24.7" fill="#d9d9d9"/>
<text x="355.75" y="18.2" font-size="12.8" fill="#1a1a1a" text-anchor="middle">B</text>
<rect x="462.06" y="1.1" width="196.45" height="24.7" fill="#d9d9d9"/>
<text x="560.28" y="18.2" font-size="12.8" fill="#1a1a1a" text-anchor="middle">C</text>
<rect x="658.51" y="25.8" width="25.39" height="201" fill="#d9d9d9"/>
<text transform="translate(666.3 126.3) rotate(90)" font-size="13.1" fill="#1a1a1a" text-anchor="middle">99 percentile</text>
<rect x="658.51" y="234.95" width="25.39" height="201" fill="#d9d9d9"/>
<text transform="translate(666.3 335.45) rotate(90)" font-size="13.1" fill="#1a1a1a" text-anchor="middle">median</text>
<rect x="658.51" y="444.05" width="25.39" height="201" fill="#d9d9d9"/>
<text transform="translate(666.3 544.55) rotate(90)" font-size="13.1" fill="#1a1a1a" text-anchor="middle">1 percentile</text>
<text transform="translate(45.6 222.65) scale(.975 1.03)" font-size="12.9" fill="#4d4d4d" text-anchor="end">0.00</text>
<text transform="translate(45.6 176.94) scale(.975 1.03)" font-size="12.9" fill="#4d4d4d" text-anchor="end">0.25</text>
<text transform="translate(45.6 131.22) scale(.975 1.03)" font-size="12.9" fill="#4d4d4d" text-anchor="end">0.50</text>
<text transform="translate(45.6 85.51) scale(.975 1.03)" font-size="12.9" fill="#4d4d4d" text-anchor="end">0.75</text>
<text transform="translate(45.6 39.8) scale(.975 1.03)" font-size="12.9" fill="#4d4d4d" text-anchor="end">1.00</text>
<text transform="translate(45.6 431.8) scale(.975 1.03)" font-size="12.9" fill="#4d4d4d" text-anchor="end">0.00</text>
<text transform="translate(45.6 386.09) scale(.975 1.03)" font-size="12.9" fill="#4d4d4d" text-anchor="end">0.25</text>
<text transform="translate(45.6 340.38) scale(.975 1.03)" font-size="12.9" fill="#4d4d4d" text-anchor="end">0.50</text>
<text transform="translate(45.6 294.66) scale(.975 1.03)" font-size="12.9" fill="#4d4d4d" text-anchor="end">0.75</text>
<text transform="translate(45.6 248.95) scale(.975 1.03)" font-size="12.9" fill="#4d4d4d" text-anchor="end">1.00</text>
<text transform="translate(45.6 640.9) scale(.975 1.03)" font-size="12.9" fill="#4d4d4d" text-anchor="end">0.00</text>
<text transform="translate(45.6 595.19) scale(.975 1.03)" font-size="12.9" fill="#4d4d4d" text-anchor="end">0.25</text>
<text transform="translate(45.6 549.48) scale(.975 1.03)" font-size="12.9" fill="#4d4d4d" text-anchor="end">0.50</text>
<text transform="translate(45.6 503.76) scale(.975 1.03)" font-size="12.9" fill="#4d4d4d" text-anchor="end">0.75</text>
<text transform="translate(45.6 458.05) scale(.975 1.03)" font-size="12.9" fill="#4d4d4d" text-anchor="end">1.00</text>
<text transform="translate(61.6 661.95) scale(.975 1.03)" font-size="12.9" fill="#4d4d4d" text-anchor="middle">0</text>
<text transform="translate(106.4 661.95) scale(.975 1.03)" font-size="12.9" fill="#4d4d4d" text-anchor="middle">250</text>
<text transform="translate(151.2 661.95) scale(.975 1.03)" font-size="12.9" fill="#4d4d4d" text-anchor="middle">500</text>
<text transform="translate(196 661.95) scale(.975 1.03)" font-size="12.9" fill="#4d4d4d" text-anchor="middle">750</text>
<text transform="translate(240.8 661.95) scale(.975 1.03)" font-size="12.9" fill="#4d4d4d" text-anchor="middle">1000</text>
<text transform="translate(266.4 661.95) scale(.975 1.03)" font-size="12.9" fill="#4d4d4d" text-anchor="middle">0</text>
<text transform="translate(311.14 661.95) scale(.975 1.03)" font-size="12.9" fill="#4d4d4d" text-anchor="middle">250</text>
<text transform="translate(355.88 661.95) scale(.975 1.03)" font-size="12.9" fill="#4d4d4d" text-anchor="middle">500</text>
<text transform="translate(400.63 661.95) scale(.975 1.03)" font-size="12.9" fill="#4d4d4d" text-anchor="middle">750</text>
<text transform="translate(445.37 661.95) scale(.975 1.03)" font-size="12.9" fill="#4d4d4d" text-anchor="middle">1000</text>
<text transform="translate(471.07 661.95) scale(.975 1.03)" font-size="12.9" fill="#4d4d4d" text-anchor="middle">0</text>
<text transform="translate(515.81 661.95) scale(.975 1.03)" font-size="12.9" fill="#4d4d4d" text-anchor="middle">250</text>
<text transform="translate(560.55 661.95) scale(.975 1.03)" font-size="12.9" fill="#4d4d4d" text-anchor="middle">500</text>
<text transform="translate(605.3 661.95) scale(.975 1.03)" font-size="12.9" fill="#4d4d4d" text-anchor="middle">750</text>
<text transform="translate(650.04 661.95) scale(.975 1.03)" font-size="12.9" fill="#4d4d4d" text-anchor="middle">1000</text>
<path d="M48.9 217.9H53M48.9 172.19H53M48.9 126.47H53M48.9 80.76H53M48.9 35.05H53M48.9 427.05H53M48.9 381.34H53M48.9 335.62H53M48.9 289.91H53M48.9 244.2H53M48.9 636.15H53M48.9 590.44H53M48.9 544.73H53M48.9 499.01H53M48.9 453.3H53M61.6 645.05V649.15M106.4 645.05V649.15M151.2 645.05V649.15M196 645.05V649.15M240.8 645.05V649.15M266.4 645.05V649.15M311.14 645.05V649.15M355.88 645.05V649.15M400.63 645.05V649.15M445.37 645.05V649.15M471.07 645.05V649.15M515.81 645.05V649.15M560.55 645.05V649.15M605.3 645.05V649.15M650.04 645.05V649.15" stroke="#333" stroke-width="1.6" fill="none"/>
<text x="355.75" y="679.8" font-size="15.9" fill="#000" text-anchor="middle">nucleotide position in the window</text>
<text transform="translate(13.2 335.43) rotate(-90)" font-size="15.9" fill="#000" text-anchor="middle">normalised relative empirical genome coverage</text>
</svg>
</body></html>
